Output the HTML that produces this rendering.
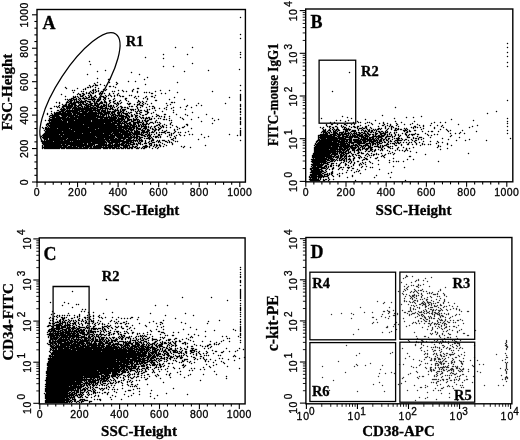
<!DOCTYPE html>
<html><head><meta charset="utf-8"><title>Flow cytometry</title>
<style>html,body{margin:0;padding:0;background:#fff}svg{display:block;filter:grayscale(1)}text{fill:#000;stroke:#000;stroke-width:0.3px}.t{letter-spacing:0.45px}</style></head>
<body><svg width="520" height="440" viewBox="0 0 520 440">
<defs><filter id="nf" x="0" y="0" width="520" height="440" filterUnits="userSpaceOnUse"><feOffset dx="0" dy="0"/></filter><path id="d1" d="M240 17h1v1h-1zM240 34h1v1h-1zM240 38h1v1h-1zM507 43h1v1h-1zM175 47h1v1h-1zM192 47h1v1h-1zM507 47h1v1h-1zM240 52h1v1h-1zM507 52h1v1h-1zM163 54h1v1h-1zM187 54h1v1h-1zM240 54h1v1h-1zM507 56h1v1h-1zM145 57h1v1h-1zM240 57h1v1h-1zM163 58h1v1h-1zM89 61h1v1h-1zM507 62h1v1h-1zM192 63h1v1h-1zM90 64h1v1h-1zM163 66h1v1h-1zM173 66h1v1h-1zM507 66h1v1h-1zM239 69h1v1h-1zM105 70h1v1h-1zM208 70h1v1h-1zM97 71h1v1h-1zM184 71h1v1h-1zM131 72h1v1h-1zM349 72h1v1h-1zM87 74h1v1h-1zM139 74h1v1h-1zM147 77h1v1h-1zM97 78h1v1h-1zM108 79h2v1h-2zM144 79h1v1h-1zM128 81h1v1h-1zM135 81h1v1h-1zM97 82h1v1h-1zM109 82h1v1h-1zM116 82h1v1h-1zM177 82h1v1h-1zM94 83h1v1h-1zM117 83h1v1h-1zM95 84h1v1h-1zM100 84h1v1h-1zM116 84h1v1h-1zM145 84h1v1h-1zM89 85h1v1h-1zM93 85h1v1h-1zM95 85h3v1h-3zM104 85h1v1h-1zM240 85h1v1h-1zM90 86h1v1h-1zM92 86h1v1h-1zM109 86h2v1h-2zM113 86h1v1h-1zM65 87h1v1h-1zM87 87h2v1h-2zM90 87h1v1h-1zM95 87h1v1h-1zM115 87h1v1h-1zM66 88h1v1h-1zM77 88h1v1h-1zM85 88h1v1h-1zM98 88h1v1h-1zM137 88h2v1h-2zM83 89h1v1h-1zM85 89h1v1h-1zM93 89h1v1h-1zM95 89h1v1h-1zM103 89h2v1h-2zM106 89h1v1h-1zM133 89h1v1h-1zM72 90h1v1h-1zM74 90h1v1h-1zM92 90h2v1h-2zM95 90h1v1h-1zM98 90h1v1h-1zM105 90h1v1h-1zM118 90h1v1h-1zM122 90h1v1h-1zM132 90h1v1h-1zM160 90h1v1h-1zM169 90h1v1h-1zM240 90h1v1h-1zM81 91h1v1h-1zM83 91h1v1h-1zM90 91h1v1h-1zM93 91h1v1h-1zM96 91h1v1h-1zM98 91h1v1h-1zM101 91h2v1h-2zM112 91h1v1h-1zM114 91h1v1h-1zM123 91h1v1h-1zM126 91h1v1h-1zM132 91h1v1h-1zM137 91h1v1h-1zM155 91h1v1h-1zM212 91h1v1h-1zM332 91h1v1h-1zM73 92h1v1h-1zM86 92h1v1h-1zM89 92h1v1h-1zM91 92h1v1h-1zM93 92h1v1h-1zM95 92h1v1h-1zM100 92h1v1h-1zM137 92h1v1h-1zM144 92h1v1h-1zM146 92h1v1h-1zM149 92h1v1h-1zM177 92h1v1h-1zM78 93h1v1h-1zM82 93h2v1h-2zM86 93h1v1h-1zM88 93h2v1h-2zM92 93h2v1h-2zM99 93h4v1h-4zM104 93h1v1h-1zM109 93h1v1h-1zM113 93h1v1h-1zM118 93h1v1h-1zM151 93h2v1h-2zM161 93h1v1h-1zM165 93h1v1h-1zM61 94h1v1h-1zM77 94h1v1h-1zM79 94h2v1h-2zM83 94h2v1h-2zM90 94h1v1h-1zM99 94h1v1h-1zM101 94h1v1h-1zM109 94h1v1h-1zM117 94h1v1h-1zM240 94h1v1h-1zM80 95h1v1h-1zM82 95h2v1h-2zM88 95h1v1h-1zM90 95h2v1h-2zM95 95h1v1h-1zM105 95h1v1h-1zM108 95h1v1h-1zM110 95h1v1h-1zM114 95h1v1h-1zM117 95h1v1h-1zM119 95h1v1h-1zM129 95h1v1h-1zM131 95h1v1h-1zM155 95h1v1h-1zM240 95h1v1h-1zM65 96h1v1h-1zM73 96h1v1h-1zM75 96h1v1h-1zM77 96h1v1h-1zM80 96h3v1h-3zM85 96h1v1h-1zM89 96h1v1h-1zM91 96h1v1h-1zM94 96h2v1h-2zM101 96h3v1h-3zM106 96h1v1h-1zM111 96h1v1h-1zM114 96h1v1h-1zM120 96h1v1h-1zM122 96h2v1h-2zM135 96h1v1h-1zM138 96h1v1h-1zM146 96h1v1h-1zM151 96h2v1h-2zM240 96h1v1h-1zM73 97h3v1h-3zM78 97h1v1h-1zM83 97h1v1h-1zM86 97h1v1h-1zM88 97h2v1h-2zM91 97h3v1h-3zM96 97h1v1h-1zM100 97h1v1h-1zM103 97h3v1h-3zM134 97h1v1h-1zM145 97h1v1h-1zM154 97h1v1h-1zM174 97h1v1h-1zM229 97h1v1h-1zM240 97h1v1h-1zM71 98h3v1h-3zM76 98h1v1h-1zM79 98h2v1h-2zM82 98h6v1h-6zM91 98h1v1h-1zM93 98h2v1h-2zM100 98h1v1h-1zM104 98h2v1h-2zM108 98h1v1h-1zM114 98h1v1h-1zM125 98h2v1h-2zM136 98h1v1h-1zM143 98h1v1h-1zM147 98h1v1h-1zM240 98h1v1h-1zM65 99h1v1h-1zM67 99h1v1h-1zM69 99h3v1h-3zM73 99h4v1h-4zM78 99h1v1h-1zM80 99h1v1h-1zM84 99h1v1h-1zM88 99h8v1h-8zM97 99h1v1h-1zM99 99h2v1h-2zM103 99h1v1h-1zM105 99h1v1h-1zM113 99h1v1h-1zM125 99h1v1h-1zM147 99h1v1h-1zM169 99h1v1h-1zM184 99h1v1h-1zM240 99h1v1h-1zM68 100h1v1h-1zM70 100h3v1h-3zM74 100h1v1h-1zM76 100h1v1h-1zM79 100h1v1h-1zM81 100h1v1h-1zM85 100h2v1h-2zM92 100h1v1h-1zM94 100h1v1h-1zM97 100h3v1h-3zM104 100h1v1h-1zM109 100h2v1h-2zM115 100h1v1h-1zM120 100h1v1h-1zM126 100h1v1h-1zM138 100h1v1h-1zM155 100h2v1h-2zM240 100h1v1h-1zM507 100h1v1h-1zM67 101h1v1h-1zM69 101h3v1h-3zM74 101h1v1h-1zM76 101h3v1h-3zM80 101h6v1h-6zM87 101h4v1h-4zM93 101h2v1h-2zM96 101h3v1h-3zM101 101h1v1h-1zM104 101h2v1h-2zM109 101h1v1h-1zM113 101h2v1h-2zM119 101h1v1h-1zM128 101h1v1h-1zM138 101h2v1h-2zM142 101h1v1h-1zM146 101h1v1h-1zM56 102h1v1h-1zM59 102h1v1h-1zM66 102h3v1h-3zM70 102h2v1h-2zM73 102h11v1h-11zM85 102h1v1h-1zM89 102h2v1h-2zM94 102h1v1h-1zM96 102h1v1h-1zM100 102h3v1h-3zM104 102h3v1h-3zM110 102h1v1h-1zM113 102h1v1h-1zM117 102h1v1h-1zM121 102h1v1h-1zM137 102h1v1h-1zM140 102h1v1h-1zM143 102h1v1h-1zM171 102h2v1h-2zM174 102h1v1h-1zM59 103h1v1h-1zM66 103h1v1h-1zM69 103h7v1h-7zM78 103h1v1h-1zM80 103h1v1h-1zM82 103h2v1h-2zM86 103h2v1h-2zM90 103h3v1h-3zM94 103h1v1h-1zM96 103h2v1h-2zM99 103h4v1h-4zM106 103h1v1h-1zM109 103h1v1h-1zM114 103h2v1h-2zM117 103h2v1h-2zM120 103h1v1h-1zM127 103h1v1h-1zM129 103h2v1h-2zM139 103h1v1h-1zM142 103h1v1h-1zM145 103h1v1h-1zM151 103h1v1h-1zM166 103h1v1h-1zM198 103h1v1h-1zM225 103h1v1h-1zM62 104h1v1h-1zM65 104h2v1h-2zM68 104h2v1h-2zM71 104h5v1h-5zM79 104h3v1h-3zM83 104h4v1h-4zM88 104h4v1h-4zM95 104h1v1h-1zM97 104h3v1h-3zM103 104h2v1h-2zM106 104h1v1h-1zM108 104h1v1h-1zM116 104h1v1h-1zM118 104h1v1h-1zM128 104h2v1h-2zM134 104h1v1h-1zM137 104h3v1h-3zM143 104h1v1h-1zM147 104h1v1h-1zM170 104h1v1h-1zM240 104h1v1h-1zM59 105h1v1h-1zM63 105h4v1h-4zM68 105h5v1h-5zM74 105h3v1h-3zM78 105h4v1h-4zM85 105h4v1h-4zM90 105h3v1h-3zM94 105h5v1h-5zM101 105h1v1h-1zM103 105h4v1h-4zM108 105h1v1h-1zM110 105h2v1h-2zM113 105h1v1h-1zM117 105h1v1h-1zM137 105h1v1h-1zM140 105h3v1h-3zM167 105h1v1h-1zM187 105h1v1h-1zM196 105h1v1h-1zM201 105h1v1h-1zM240 105h1v1h-1zM54 106h1v1h-1zM56 106h1v1h-1zM58 106h1v1h-1zM62 106h11v1h-11zM74 106h2v1h-2zM77 106h2v1h-2zM81 106h2v1h-2zM84 106h1v1h-1zM86 106h5v1h-5zM93 106h1v1h-1zM96 106h3v1h-3zM100 106h5v1h-5zM106 106h1v1h-1zM108 106h4v1h-4zM113 106h1v1h-1zM116 106h1v1h-1zM120 106h2v1h-2zM129 106h1v1h-1zM131 106h2v1h-2zM136 106h1v1h-1zM142 106h1v1h-1zM149 106h1v1h-1zM152 106h2v1h-2zM186 106h1v1h-1zM240 106h1v1h-1zM57 107h1v1h-1zM59 107h1v1h-1zM62 107h2v1h-2zM66 107h6v1h-6zM73 107h4v1h-4zM78 107h3v1h-3zM82 107h1v1h-1zM84 107h5v1h-5zM90 107h3v1h-3zM94 107h2v1h-2zM97 107h6v1h-6zM105 107h2v1h-2zM110 107h1v1h-1zM112 107h1v1h-1zM114 107h1v1h-1zM118 107h1v1h-1zM121 107h2v1h-2zM124 107h2v1h-2zM127 107h1v1h-1zM137 107h1v1h-1zM140 107h1v1h-1zM146 107h1v1h-1zM154 107h1v1h-1zM166 107h1v1h-1zM173 107h1v1h-1zM180 107h1v1h-1zM191 107h1v1h-1zM395 107h1v1h-1zM50 108h2v1h-2zM61 108h1v1h-1zM63 108h2v1h-2zM66 108h5v1h-5zM72 108h26v1h-26zM100 108h9v1h-9zM110 108h3v1h-3zM117 108h1v1h-1zM121 108h1v1h-1zM127 108h2v1h-2zM137 108h1v1h-1zM152 108h1v1h-1zM154 108h1v1h-1zM159 108h1v1h-1zM164 108h1v1h-1zM171 108h1v1h-1zM240 108h1v1h-1zM60 109h6v1h-6zM67 109h1v1h-1zM69 109h1v1h-1zM72 109h1v1h-1zM74 109h18v1h-18zM93 109h3v1h-3zM97 109h4v1h-4zM102 109h1v1h-1zM105 109h1v1h-1zM107 109h1v1h-1zM109 109h2v1h-2zM112 109h2v1h-2zM115 109h1v1h-1zM117 109h1v1h-1zM120 109h1v1h-1zM122 109h4v1h-4zM130 109h4v1h-4zM135 109h1v1h-1zM138 109h1v1h-1zM147 109h1v1h-1zM149 109h1v1h-1zM166 109h1v1h-1zM185 109h1v1h-1zM240 109h1v1h-1zM57 110h2v1h-2zM61 110h4v1h-4zM66 110h14v1h-14zM81 110h3v1h-3zM85 110h15v1h-15zM101 110h5v1h-5zM107 110h1v1h-1zM114 110h5v1h-5zM120 110h1v1h-1zM122 110h3v1h-3zM131 110h1v1h-1zM133 110h1v1h-1zM138 110h1v1h-1zM140 110h2v1h-2zM144 110h1v1h-1zM147 110h1v1h-1zM155 110h1v1h-1zM173 110h1v1h-1zM51 111h1v1h-1zM59 111h5v1h-5zM65 111h13v1h-13zM79 111h9v1h-9zM89 111h4v1h-4zM95 111h1v1h-1zM97 111h3v1h-3zM101 111h5v1h-5zM107 111h4v1h-4zM112 111h4v1h-4zM118 111h1v1h-1zM120 111h2v1h-2zM123 111h1v1h-1zM126 111h1v1h-1zM135 111h1v1h-1zM137 111h1v1h-1zM139 111h1v1h-1zM145 111h3v1h-3zM162 111h1v1h-1zM240 111h1v1h-1zM496 111h1v1h-1zM54 112h1v1h-1zM56 112h5v1h-5zM62 112h4v1h-4zM67 112h4v1h-4zM72 112h8v1h-8zM82 112h5v1h-5zM88 112h9v1h-9zM98 112h4v1h-4zM103 112h7v1h-7zM111 112h4v1h-4zM117 112h4v1h-4zM122 112h2v1h-2zM128 112h1v1h-1zM130 112h2v1h-2zM136 112h1v1h-1zM140 112h2v1h-2zM147 112h2v1h-2zM153 112h1v1h-1zM173 112h1v1h-1zM192 112h1v1h-1zM240 112h1v1h-1zM47 113h1v1h-1zM51 113h1v1h-1zM54 113h18v1h-18zM73 113h30v1h-30zM104 113h6v1h-6zM111 113h2v1h-2zM114 113h1v1h-1zM117 113h3v1h-3zM121 113h1v1h-1zM123 113h5v1h-5zM129 113h1v1h-1zM136 113h2v1h-2zM139 113h1v1h-1zM147 113h1v1h-1zM151 113h1v1h-1zM487 113h1v1h-1zM47 114h1v1h-1zM52 114h1v1h-1zM54 114h18v1h-18zM73 114h3v1h-3zM77 114h20v1h-20zM98 114h1v1h-1zM100 114h7v1h-7zM108 114h1v1h-1zM110 114h1v1h-1zM112 114h4v1h-4zM118 114h2v1h-2zM121 114h1v1h-1zM125 114h3v1h-3zM131 114h1v1h-1zM134 114h1v1h-1zM140 114h1v1h-1zM145 114h2v1h-2zM156 114h1v1h-1zM164 114h2v1h-2zM176 114h1v1h-1zM185 114h1v1h-1zM206 114h1v1h-1zM240 114h1v1h-1zM50 115h9v1h-9zM61 115h17v1h-17zM79 115h5v1h-5zM85 115h14v1h-14zM100 115h1v1h-1zM102 115h3v1h-3zM106 115h1v1h-1zM108 115h1v1h-1zM111 115h3v1h-3zM115 115h9v1h-9zM126 115h3v1h-3zM131 115h2v1h-2zM135 115h3v1h-3zM142 115h2v1h-2zM157 115h2v1h-2zM187 115h1v1h-1zM382 115h1v1h-1zM49 116h1v1h-1zM52 116h8v1h-8zM62 116h5v1h-5zM68 116h6v1h-6zM75 116h29v1h-29zM106 116h1v1h-1zM108 116h2v1h-2zM111 116h1v1h-1zM113 116h3v1h-3zM117 116h1v1h-1zM119 116h8v1h-8zM128 116h2v1h-2zM131 116h2v1h-2zM135 116h2v1h-2zM139 116h1v1h-1zM152 116h1v1h-1zM156 116h1v1h-1zM159 116h1v1h-1zM161 116h1v1h-1zM164 116h1v1h-1zM169 116h1v1h-1zM342 116h1v1h-1zM421 116h1v1h-1zM50 117h5v1h-5zM56 117h10v1h-10zM67 117h2v1h-2zM70 117h26v1h-26zM97 117h20v1h-20zM118 117h1v1h-1zM121 117h3v1h-3zM125 117h3v1h-3zM129 117h1v1h-1zM135 117h1v1h-1zM137 117h1v1h-1zM140 117h1v1h-1zM142 117h2v1h-2zM146 117h1v1h-1zM148 117h2v1h-2zM164 117h1v1h-1zM180 117h1v1h-1zM198 117h1v1h-1zM240 117h1v1h-1zM347 117h1v1h-1zM406 117h1v1h-1zM413 117h1v1h-1zM49 118h1v1h-1zM52 118h25v1h-25zM78 118h20v1h-20zM100 118h3v1h-3zM104 118h4v1h-4zM109 118h8v1h-8zM118 118h6v1h-6zM125 118h1v1h-1zM127 118h2v1h-2zM133 118h1v1h-1zM136 118h1v1h-1zM141 118h1v1h-1zM143 118h1v1h-1zM145 118h3v1h-3zM149 118h1v1h-1zM151 118h1v1h-1zM154 118h1v1h-1zM158 118h1v1h-1zM160 118h1v1h-1zM169 118h1v1h-1zM182 118h1v1h-1zM212 118h1v1h-1zM240 118h1v1h-1zM321 118h1v1h-1zM351 118h1v1h-1zM394 118h1v1h-1zM507 118h1v1h-1zM49 119h12v1h-12zM62 119h54v1h-54zM117 119h8v1h-8zM127 119h5v1h-5zM133 119h6v1h-6zM145 119h1v1h-1zM149 119h3v1h-3zM163 119h2v1h-2zM166 119h1v1h-1zM183 119h1v1h-1zM191 119h1v1h-1zM218 119h1v1h-1zM240 119h1v1h-1zM365 119h1v1h-1zM451 119h1v1h-1zM45 120h1v1h-1zM48 120h14v1h-14zM63 120h11v1h-11zM75 120h16v1h-16zM92 120h28v1h-28zM121 120h2v1h-2zM124 120h1v1h-1zM127 120h3v1h-3zM131 120h1v1h-1zM133 120h3v1h-3zM137 120h1v1h-1zM139 120h1v1h-1zM142 120h1v1h-1zM144 120h2v1h-2zM147 120h2v1h-2zM156 120h1v1h-1zM169 120h1v1h-1zM171 120h1v1h-1zM214 120h1v1h-1zM336 120h1v1h-1zM340 120h1v1h-1zM348 120h1v1h-1zM375 120h1v1h-1zM473 120h1v1h-1zM49 121h1v1h-1zM51 121h16v1h-16zM68 121h23v1h-23zM92 121h21v1h-21zM114 121h8v1h-8zM123 121h5v1h-5zM131 121h3v1h-3zM137 121h3v1h-3zM142 121h1v1h-1zM145 121h3v1h-3zM155 121h1v1h-1zM201 121h1v1h-1zM240 121h1v1h-1zM345 121h1v1h-1zM357 121h1v1h-1zM395 121h1v1h-1zM414 121h1v1h-1zM507 121h1v1h-1zM49 122h18v1h-18zM68 122h43v1h-43zM112 122h5v1h-5zM118 122h3v1h-3zM122 122h1v1h-1zM124 122h3v1h-3zM129 122h2v1h-2zM133 122h9v1h-9zM143 122h1v1h-1zM146 122h1v1h-1zM150 122h3v1h-3zM155 122h1v1h-1zM157 122h1v1h-1zM159 122h1v1h-1zM171 122h1v1h-1zM240 122h1v1h-1zM330 122h1v1h-1zM334 122h1v1h-1zM353 122h1v1h-1zM358 122h1v1h-1zM360 122h1v1h-1zM367 122h1v1h-1zM369 122h1v1h-1zM383 122h1v1h-1zM401 122h1v1h-1zM434 122h1v1h-1zM440 122h1v1h-1zM445 122h1v1h-1zM47 123h57v1h-57zM105 123h20v1h-20zM126 123h5v1h-5zM133 123h3v1h-3zM137 123h2v1h-2zM142 123h2v1h-2zM146 123h2v1h-2zM149 123h1v1h-1zM153 123h1v1h-1zM160 123h1v1h-1zM170 123h1v1h-1zM212 123h1v1h-1zM240 123h1v1h-1zM347 123h1v1h-1zM365 123h1v1h-1zM371 123h1v1h-1zM379 123h1v1h-1zM383 123h1v1h-1zM387 123h1v1h-1zM396 123h1v1h-1zM412 123h1v1h-1zM431 123h1v1h-1zM507 123h1v1h-1zM46 124h3v1h-3zM50 124h33v1h-33zM84 124h31v1h-31zM117 124h3v1h-3zM121 124h1v1h-1zM124 124h2v1h-2zM127 124h1v1h-1zM129 124h3v1h-3zM133 124h3v1h-3zM138 124h1v1h-1zM140 124h1v1h-1zM142 124h5v1h-5zM148 124h1v1h-1zM158 124h2v1h-2zM164 124h1v1h-1zM170 124h1v1h-1zM186 124h2v1h-2zM240 124h1v1h-1zM326 124h1v1h-1zM331 124h2v1h-2zM337 124h1v1h-1zM344 124h2v1h-2zM351 124h1v1h-1zM354 124h1v1h-1zM372 124h1v1h-1zM384 124h1v1h-1zM390 124h1v1h-1zM397 124h1v1h-1zM404 124h1v1h-1zM410 124h1v1h-1zM417 124h1v1h-1zM458 124h1v1h-1zM46 125h1v1h-1zM48 125h74v1h-74zM124 125h5v1h-5zM130 125h5v1h-5zM136 125h1v1h-1zM138 125h2v1h-2zM141 125h1v1h-1zM143 125h1v1h-1zM145 125h1v1h-1zM156 125h2v1h-2zM159 125h1v1h-1zM162 125h1v1h-1zM166 125h1v1h-1zM172 125h1v1h-1zM187 125h1v1h-1zM326 125h1v1h-1zM341 125h1v1h-1zM346 125h1v1h-1zM360 125h1v1h-1zM368 125h1v1h-1zM382 125h2v1h-2zM387 125h1v1h-1zM390 125h1v1h-1zM396 125h1v1h-1zM419 125h1v1h-1zM423 125h1v1h-1zM430 125h1v1h-1zM437 125h1v1h-1zM442 125h1v1h-1zM477 125h1v1h-1zM47 126h1v1h-1zM49 126h68v1h-68zM118 126h13v1h-13zM132 126h5v1h-5zM138 126h2v1h-2zM141 126h6v1h-6zM148 126h1v1h-1zM151 126h1v1h-1zM154 126h2v1h-2zM160 126h1v1h-1zM162 126h2v1h-2zM176 126h1v1h-1zM184 126h1v1h-1zM327 126h1v1h-1zM329 126h2v1h-2zM335 126h2v1h-2zM341 126h1v1h-1zM343 126h1v1h-1zM349 126h1v1h-1zM353 126h2v1h-2zM357 126h2v1h-2zM365 126h2v1h-2zM378 126h1v1h-1zM385 126h1v1h-1zM389 126h1v1h-1zM391 126h2v1h-2zM398 126h1v1h-1zM414 126h2v1h-2zM423 126h1v1h-1zM441 126h1v1h-1zM472 126h1v1h-1zM507 126h1v1h-1zM42 127h1v1h-1zM45 127h2v1h-2zM48 127h1v1h-1zM50 127h38v1h-38zM89 127h39v1h-39zM129 127h6v1h-6zM136 127h2v1h-2zM141 127h1v1h-1zM144 127h3v1h-3zM148 127h1v1h-1zM150 127h1v1h-1zM154 127h1v1h-1zM158 127h1v1h-1zM161 127h1v1h-1zM163 127h1v1h-1zM166 127h1v1h-1zM170 127h1v1h-1zM177 127h1v1h-1zM182 127h2v1h-2zM320 127h1v1h-1zM323 127h1v1h-1zM329 127h1v1h-1zM332 127h2v1h-2zM337 127h1v1h-1zM342 127h1v1h-1zM344 127h2v1h-2zM351 127h1v1h-1zM354 127h2v1h-2zM357 127h1v1h-1zM362 127h1v1h-1zM365 127h2v1h-2zM370 127h1v1h-1zM385 127h1v1h-1zM391 127h1v1h-1zM393 127h1v1h-1zM411 127h1v1h-1zM413 127h1v1h-1zM415 127h1v1h-1zM417 127h1v1h-1zM420 127h1v1h-1zM434 127h1v1h-1zM443 127h1v1h-1zM469 127h1v1h-1zM43 128h1v1h-1zM45 128h12v1h-12zM58 128h11v1h-11zM70 128h28v1h-28zM99 128h18v1h-18zM118 128h4v1h-4zM123 128h9v1h-9zM133 128h2v1h-2zM136 128h5v1h-5zM143 128h4v1h-4zM150 128h1v1h-1zM152 128h1v1h-1zM155 128h1v1h-1zM159 128h2v1h-2zM179 128h1v1h-1zM191 128h1v1h-1zM240 128h1v1h-1zM322 128h1v1h-1zM330 128h1v1h-1zM333 128h1v1h-1zM337 128h1v1h-1zM344 128h1v1h-1zM346 128h1v1h-1zM348 128h1v1h-1zM357 128h1v1h-1zM359 128h3v1h-3zM363 128h2v1h-2zM366 128h1v1h-1zM371 128h1v1h-1zM378 128h2v1h-2zM381 128h1v1h-1zM385 128h1v1h-1zM388 128h1v1h-1zM391 128h1v1h-1zM395 128h2v1h-2zM398 128h1v1h-1zM404 128h1v1h-1zM406 128h1v1h-1zM413 128h1v1h-1zM423 128h1v1h-1zM434 128h1v1h-1zM45 129h26v1h-26zM72 129h23v1h-23zM96 129h28v1h-28zM125 129h2v1h-2zM128 129h6v1h-6zM136 129h1v1h-1zM138 129h3v1h-3zM142 129h1v1h-1zM145 129h1v1h-1zM147 129h2v1h-2zM152 129h2v1h-2zM155 129h2v1h-2zM158 129h2v1h-2zM174 129h1v1h-1zM177 129h1v1h-1zM323 129h1v1h-1zM325 129h1v1h-1zM329 129h1v1h-1zM332 129h1v1h-1zM334 129h1v1h-1zM336 129h3v1h-3zM343 129h8v1h-8zM358 129h1v1h-1zM362 129h1v1h-1zM367 129h1v1h-1zM369 129h1v1h-1zM373 129h1v1h-1zM375 129h1v1h-1zM377 129h2v1h-2zM380 129h1v1h-1zM387 129h1v1h-1zM391 129h1v1h-1zM395 129h1v1h-1zM397 129h2v1h-2zM400 129h2v1h-2zM405 129h1v1h-1zM407 129h1v1h-1zM421 129h1v1h-1zM440 129h1v1h-1zM446 129h1v1h-1zM44 130h1v1h-1zM46 130h79v1h-79zM126 130h3v1h-3zM130 130h3v1h-3zM134 130h1v1h-1zM136 130h2v1h-2zM141 130h4v1h-4zM147 130h3v1h-3zM154 130h2v1h-2zM158 130h1v1h-1zM162 130h1v1h-1zM166 130h1v1h-1zM174 130h1v1h-1zM240 130h1v1h-1zM323 130h3v1h-3zM328 130h3v1h-3zM333 130h1v1h-1zM335 130h2v1h-2zM338 130h2v1h-2zM345 130h3v1h-3zM349 130h1v1h-1zM352 130h4v1h-4zM358 130h1v1h-1zM361 130h1v1h-1zM363 130h1v1h-1zM365 130h1v1h-1zM368 130h2v1h-2zM371 130h2v1h-2zM374 130h1v1h-1zM376 130h1v1h-1zM386 130h1v1h-1zM394 130h3v1h-3zM403 130h4v1h-4zM409 130h1v1h-1zM414 130h2v1h-2zM447 130h1v1h-1zM450 130h1v1h-1zM462 130h1v1h-1zM507 130h1v1h-1zM45 131h17v1h-17zM63 131h11v1h-11zM75 131h55v1h-55zM131 131h1v1h-1zM134 131h6v1h-6zM142 131h3v1h-3zM146 131h3v1h-3zM152 131h1v1h-1zM154 131h1v1h-1zM164 131h2v1h-2zM175 131h1v1h-1zM188 131h1v1h-1zM240 131h1v1h-1zM322 131h4v1h-4zM327 131h1v1h-1zM330 131h1v1h-1zM333 131h3v1h-3zM337 131h1v1h-1zM343 131h1v1h-1zM345 131h3v1h-3zM351 131h5v1h-5zM364 131h3v1h-3zM368 131h2v1h-2zM371 131h2v1h-2zM376 131h1v1h-1zM378 131h2v1h-2zM381 131h2v1h-2zM385 131h1v1h-1zM387 131h1v1h-1zM404 131h1v1h-1zM407 131h1v1h-1zM409 131h2v1h-2zM422 131h1v1h-1zM428 131h1v1h-1zM431 131h2v1h-2zM438 131h1v1h-1zM448 131h1v1h-1zM476 131h1v1h-1zM45 132h45v1h-45zM91 132h21v1h-21zM113 132h6v1h-6zM120 132h8v1h-8zM129 132h4v1h-4zM134 132h6v1h-6zM141 132h7v1h-7zM149 132h1v1h-1zM151 132h3v1h-3zM156 132h1v1h-1zM159 132h1v1h-1zM161 132h4v1h-4zM167 132h3v1h-3zM174 132h1v1h-1zM178 132h1v1h-1zM180 132h1v1h-1zM185 132h1v1h-1zM240 132h1v1h-1zM321 132h1v1h-1zM323 132h4v1h-4zM328 132h2v1h-2zM331 132h1v1h-1zM333 132h4v1h-4zM339 132h5v1h-5zM345 132h1v1h-1zM348 132h1v1h-1zM350 132h1v1h-1zM354 132h1v1h-1zM356 132h1v1h-1zM358 132h2v1h-2zM361 132h2v1h-2zM364 132h1v1h-1zM367 132h1v1h-1zM370 132h2v1h-2zM373 132h1v1h-1zM375 132h1v1h-1zM379 132h2v1h-2zM383 132h1v1h-1zM385 132h3v1h-3zM390 132h1v1h-1zM394 132h1v1h-1zM396 132h1v1h-1zM406 132h2v1h-2zM460 132h1v1h-1zM44 133h38v1h-38zM83 133h20v1h-20zM104 133h7v1h-7zM112 133h9v1h-9zM122 133h9v1h-9zM132 133h8v1h-8zM141 133h1v1h-1zM143 133h1v1h-1zM147 133h1v1h-1zM149 133h1v1h-1zM156 133h1v1h-1zM165 133h1v1h-1zM171 133h1v1h-1zM173 133h1v1h-1zM240 133h1v1h-1zM323 133h1v1h-1zM325 133h3v1h-3zM329 133h1v1h-1zM333 133h5v1h-5zM339 133h1v1h-1zM341 133h2v1h-2zM344 133h6v1h-6zM351 133h1v1h-1zM353 133h4v1h-4zM359 133h2v1h-2zM363 133h3v1h-3zM367 133h2v1h-2zM375 133h3v1h-3zM380 133h6v1h-6zM389 133h1v1h-1zM394 133h1v1h-1zM402 133h1v1h-1zM405 133h1v1h-1zM415 133h1v1h-1zM425 133h1v1h-1zM450 133h1v1h-1zM455 133h1v1h-1zM459 133h1v1h-1zM464 133h1v1h-1zM507 133h1v1h-1zM43 134h16v1h-16zM60 134h3v1h-3zM64 134h49v1h-49zM114 134h18v1h-18zM133 134h10v1h-10zM145 134h2v1h-2zM148 134h2v1h-2zM151 134h1v1h-1zM154 134h1v1h-1zM158 134h2v1h-2zM161 134h1v1h-1zM169 134h1v1h-1zM171 134h1v1h-1zM179 134h1v1h-1zM189 134h1v1h-1zM192 134h1v1h-1zM201 134h1v1h-1zM229 134h1v1h-1zM240 134h1v1h-1zM320 134h8v1h-8zM330 134h6v1h-6zM337 134h10v1h-10zM348 134h1v1h-1zM350 134h1v1h-1zM352 134h1v1h-1zM354 134h1v1h-1zM356 134h4v1h-4zM361 134h2v1h-2zM365 134h2v1h-2zM368 134h3v1h-3zM372 134h2v1h-2zM375 134h2v1h-2zM380 134h2v1h-2zM384 134h2v1h-2zM387 134h1v1h-1zM389 134h1v1h-1zM391 134h1v1h-1zM395 134h1v1h-1zM398 134h1v1h-1zM405 134h2v1h-2zM409 134h1v1h-1zM411 134h4v1h-4zM417 134h2v1h-2zM427 134h1v1h-1zM434 134h1v1h-1zM437 134h1v1h-1zM42 135h67v1h-67zM110 135h13v1h-13zM124 135h7v1h-7zM132 135h1v1h-1zM134 135h1v1h-1zM136 135h2v1h-2zM141 135h4v1h-4zM147 135h4v1h-4zM158 135h2v1h-2zM169 135h1v1h-1zM171 135h1v1h-1zM176 135h1v1h-1zM180 135h1v1h-1zM184 135h1v1h-1zM237 135h1v1h-1zM240 135h1v1h-1zM318 135h14v1h-14zM333 135h4v1h-4zM338 135h3v1h-3zM342 135h2v1h-2zM346 135h3v1h-3zM350 135h1v1h-1zM352 135h4v1h-4zM357 135h6v1h-6zM364 135h4v1h-4zM369 135h1v1h-1zM373 135h1v1h-1zM375 135h1v1h-1zM378 135h2v1h-2zM381 135h4v1h-4zM387 135h1v1h-1zM391 135h1v1h-1zM395 135h1v1h-1zM398 135h1v1h-1zM400 135h1v1h-1zM406 135h1v1h-1zM408 135h1v1h-1zM412 135h1v1h-1zM428 135h1v1h-1zM431 135h1v1h-1zM451 135h1v1h-1zM41 136h1v1h-1zM43 136h18v1h-18zM62 136h33v1h-33zM96 136h19v1h-19zM116 136h7v1h-7zM124 136h5v1h-5zM130 136h2v1h-2zM133 136h2v1h-2zM136 136h4v1h-4zM144 136h2v1h-2zM147 136h1v1h-1zM149 136h2v1h-2zM153 136h1v1h-1zM155 136h3v1h-3zM160 136h1v1h-1zM167 136h1v1h-1zM174 136h1v1h-1zM208 136h1v1h-1zM318 136h1v1h-1zM320 136h15v1h-15zM337 136h3v1h-3zM342 136h6v1h-6zM349 136h9v1h-9zM359 136h5v1h-5zM365 136h4v1h-4zM372 136h12v1h-12zM386 136h5v1h-5zM392 136h1v1h-1zM394 136h1v1h-1zM399 136h1v1h-1zM407 136h1v1h-1zM417 136h1v1h-1zM450 136h1v1h-1zM42 137h22v1h-22zM65 137h31v1h-31zM97 137h18v1h-18zM117 137h21v1h-21zM139 137h4v1h-4zM148 137h2v1h-2zM151 137h1v1h-1zM155 137h2v1h-2zM158 137h1v1h-1zM160 137h1v1h-1zM170 137h1v1h-1zM175 137h1v1h-1zM204 137h1v1h-1zM318 137h19v1h-19zM338 137h6v1h-6zM345 137h8v1h-8zM354 137h5v1h-5zM361 137h5v1h-5zM367 137h1v1h-1zM369 137h5v1h-5zM376 137h1v1h-1zM378 137h4v1h-4zM385 137h2v1h-2zM392 137h1v1h-1zM398 137h1v1h-1zM407 137h3v1h-3zM413 137h1v1h-1zM419 137h3v1h-3zM430 137h1v1h-1zM459 137h1v1h-1zM43 138h5v1h-5zM49 138h18v1h-18zM68 138h36v1h-36zM105 138h9v1h-9zM115 138h2v1h-2zM118 138h8v1h-8zM128 138h4v1h-4zM134 138h1v1h-1zM136 138h2v1h-2zM139 138h2v1h-2zM144 138h1v1h-1zM146 138h5v1h-5zM152 138h1v1h-1zM173 138h1v1h-1zM175 138h1v1h-1zM318 138h1v1h-1zM320 138h6v1h-6zM327 138h19v1h-19zM349 138h3v1h-3zM358 138h2v1h-2zM361 138h1v1h-1zM363 138h5v1h-5zM369 138h2v1h-2zM372 138h2v1h-2zM375 138h1v1h-1zM377 138h2v1h-2zM381 138h2v1h-2zM385 138h1v1h-1zM388 138h2v1h-2zM394 138h1v1h-1zM396 138h4v1h-4zM401 138h1v1h-1zM413 138h1v1h-1zM415 138h2v1h-2zM418 138h1v1h-1zM423 138h1v1h-1zM442 138h1v1h-1zM510 138h1v1h-1zM44 139h4v1h-4zM49 139h17v1h-17zM67 139h10v1h-10zM78 139h1v1h-1zM80 139h29v1h-29zM110 139h11v1h-11zM123 139h2v1h-2zM126 139h5v1h-5zM133 139h1v1h-1zM136 139h1v1h-1zM138 139h2v1h-2zM141 139h1v1h-1zM149 139h1v1h-1zM152 139h2v1h-2zM171 139h2v1h-2zM198 139h1v1h-1zM318 139h2v1h-2zM321 139h17v1h-17zM339 139h13v1h-13zM353 139h6v1h-6zM360 139h15v1h-15zM376 139h1v1h-1zM378 139h1v1h-1zM380 139h2v1h-2zM383 139h2v1h-2zM386 139h1v1h-1zM388 139h1v1h-1zM392 139h1v1h-1zM397 139h2v1h-2zM402 139h1v1h-1zM405 139h2v1h-2zM411 139h1v1h-1zM418 139h1v1h-1zM421 139h1v1h-1zM448 139h1v1h-1zM469 139h1v1h-1zM41 140h1v1h-1zM44 140h1v1h-1zM46 140h14v1h-14zM61 140h2v1h-2zM64 140h41v1h-41zM106 140h18v1h-18zM126 140h12v1h-12zM139 140h4v1h-4zM145 140h1v1h-1zM151 140h3v1h-3zM157 140h1v1h-1zM159 140h1v1h-1zM162 140h3v1h-3zM168 140h1v1h-1zM173 140h1v1h-1zM240 140h1v1h-1zM317 140h23v1h-23zM341 140h4v1h-4zM346 140h2v1h-2zM349 140h3v1h-3zM353 140h8v1h-8zM362 140h4v1h-4zM367 140h5v1h-5zM373 140h5v1h-5zM379 140h3v1h-3zM383 140h1v1h-1zM386 140h2v1h-2zM390 140h1v1h-1zM395 140h7v1h-7zM404 140h1v1h-1zM408 140h1v1h-1zM412 140h1v1h-1zM415 140h2v1h-2zM456 140h1v1h-1zM465 140h1v1h-1zM486 140h1v1h-1zM41 141h12v1h-12zM54 141h16v1h-16zM71 141h1v1h-1zM73 141h33v1h-33zM107 141h3v1h-3zM111 141h21v1h-21zM133 141h1v1h-1zM135 141h1v1h-1zM137 141h1v1h-1zM139 141h1v1h-1zM141 141h2v1h-2zM145 141h1v1h-1zM149 141h1v1h-1zM151 141h1v1h-1zM156 141h1v1h-1zM158 141h2v1h-2zM165 141h2v1h-2zM169 141h1v1h-1zM175 141h1v1h-1zM177 141h1v1h-1zM316 141h2v1h-2zM319 141h13v1h-13zM333 141h15v1h-15zM349 141h3v1h-3zM354 141h8v1h-8zM363 141h5v1h-5zM369 141h7v1h-7zM377 141h1v1h-1zM379 141h3v1h-3zM384 141h1v1h-1zM388 141h1v1h-1zM390 141h2v1h-2zM394 141h1v1h-1zM397 141h1v1h-1zM414 141h1v1h-1zM423 141h1v1h-1zM430 141h1v1h-1zM437 141h1v1h-1zM42 142h1v1h-1zM44 142h47v1h-47zM92 142h15v1h-15zM108 142h12v1h-12zM122 142h7v1h-7zM130 142h4v1h-4zM138 142h1v1h-1zM140 142h1v1h-1zM145 142h1v1h-1zM148 142h1v1h-1zM152 142h3v1h-3zM158 142h1v1h-1zM160 142h1v1h-1zM167 142h1v1h-1zM169 142h1v1h-1zM171 142h1v1h-1zM316 142h1v1h-1zM318 142h19v1h-19zM338 142h7v1h-7zM346 142h1v1h-1zM348 142h14v1h-14zM363 142h3v1h-3zM369 142h1v1h-1zM371 142h3v1h-3zM376 142h4v1h-4zM382 142h1v1h-1zM384 142h2v1h-2zM388 142h1v1h-1zM395 142h1v1h-1zM397 142h2v1h-2zM400 142h1v1h-1zM403 142h1v1h-1zM406 142h1v1h-1zM409 142h1v1h-1zM411 142h1v1h-1zM415 142h1v1h-1zM419 142h1v1h-1zM438 142h1v1h-1zM442 142h1v1h-1zM42 143h41v1h-41zM84 143h3v1h-3zM88 143h17v1h-17zM106 143h1v1h-1zM109 143h4v1h-4zM115 143h3v1h-3zM119 143h1v1h-1zM121 143h4v1h-4zM126 143h5v1h-5zM133 143h2v1h-2zM136 143h1v1h-1zM138 143h3v1h-3zM144 143h3v1h-3zM149 143h3v1h-3zM162 143h1v1h-1zM172 143h1v1h-1zM315 143h1v1h-1zM317 143h22v1h-22zM340 143h8v1h-8zM349 143h1v1h-1zM351 143h3v1h-3zM357 143h8v1h-8zM366 143h5v1h-5zM372 143h4v1h-4zM377 143h1v1h-1zM379 143h3v1h-3zM387 143h1v1h-1zM390 143h1v1h-1zM392 143h3v1h-3zM396 143h1v1h-1zM398 143h2v1h-2zM408 143h1v1h-1zM416 143h1v1h-1zM422 143h1v1h-1zM436 143h1v1h-1zM447 143h1v1h-1zM43 144h18v1h-18zM62 144h3v1h-3zM66 144h21v1h-21zM88 144h7v1h-7zM98 144h9v1h-9zM108 144h3v1h-3zM112 144h1v1h-1zM114 144h10v1h-10zM125 144h2v1h-2zM128 144h1v1h-1zM130 144h5v1h-5zM136 144h2v1h-2zM140 144h1v1h-1zM142 144h1v1h-1zM149 144h1v1h-1zM151 144h1v1h-1zM154 144h1v1h-1zM156 144h1v1h-1zM159 144h1v1h-1zM164 144h1v1h-1zM172 144h1v1h-1zM315 144h31v1h-31zM347 144h3v1h-3zM353 144h1v1h-1zM355 144h2v1h-2zM358 144h2v1h-2zM365 144h3v1h-3zM370 144h1v1h-1zM372 144h2v1h-2zM375 144h1v1h-1zM377 144h2v1h-2zM386 144h3v1h-3zM394 144h1v1h-1zM401 144h1v1h-1zM407 144h2v1h-2zM412 144h1v1h-1zM416 144h1v1h-1zM422 144h1v1h-1zM424 144h1v1h-1zM428 144h1v1h-1zM430 144h1v1h-1zM447 144h1v1h-1zM42 145h1v1h-1zM44 145h24v1h-24zM70 145h23v1h-23zM94 145h1v1h-1zM96 145h24v1h-24zM121 145h9v1h-9zM132 145h1v1h-1zM137 145h1v1h-1zM145 145h2v1h-2zM150 145h2v1h-2zM154 145h1v1h-1zM156 145h2v1h-2zM159 145h2v1h-2zM166 145h1v1h-1zM205 145h1v1h-1zM314 145h1v1h-1zM316 145h23v1h-23zM340 145h10v1h-10zM351 145h7v1h-7zM359 145h3v1h-3zM363 145h6v1h-6zM370 145h1v1h-1zM372 145h1v1h-1zM377 145h1v1h-1zM380 145h1v1h-1zM382 145h1v1h-1zM384 145h3v1h-3zM395 145h2v1h-2zM401 145h1v1h-1zM420 145h1v1h-1zM438 145h1v1h-1zM451 145h1v1h-1zM42 146h1v1h-1zM44 146h18v1h-18zM63 146h4v1h-4zM68 146h4v1h-4zM73 146h3v1h-3zM77 146h7v1h-7zM85 146h7v1h-7zM93 146h9v1h-9zM103 146h1v1h-1zM105 146h2v1h-2zM108 146h5v1h-5zM114 146h6v1h-6zM123 146h5v1h-5zM129 146h1v1h-1zM132 146h2v1h-2zM135 146h2v1h-2zM143 146h5v1h-5zM149 146h1v1h-1zM153 146h1v1h-1zM156 146h1v1h-1zM160 146h1v1h-1zM163 146h1v1h-1zM181 146h1v1h-1zM184 146h1v1h-1zM315 146h16v1h-16zM332 146h21v1h-21zM355 146h1v1h-1zM357 146h2v1h-2zM361 146h3v1h-3zM365 146h1v1h-1zM368 146h3v1h-3zM374 146h5v1h-5zM380 146h1v1h-1zM382 146h2v1h-2zM387 146h2v1h-2zM390 146h1v1h-1zM392 146h1v1h-1zM438 146h1v1h-1zM440 146h1v1h-1zM42 147h36v1h-36zM79 147h3v1h-3zM83 147h6v1h-6zM90 147h2v1h-2zM93 147h24v1h-24zM118 147h1v1h-1zM120 147h2v1h-2zM123 147h5v1h-5zM129 147h4v1h-4zM134 147h2v1h-2zM137 147h1v1h-1zM139 147h1v1h-1zM142 147h1v1h-1zM144 147h3v1h-3zM149 147h1v1h-1zM155 147h1v1h-1zM158 147h1v1h-1zM183 147h1v1h-1zM190 147h1v1h-1zM314 147h24v1h-24zM339 147h3v1h-3zM343 147h6v1h-6zM350 147h7v1h-7zM358 147h1v1h-1zM360 147h1v1h-1zM362 147h1v1h-1zM364 147h1v1h-1zM368 147h5v1h-5zM378 147h3v1h-3zM382 147h1v1h-1zM388 147h2v1h-2zM398 147h1v1h-1zM403 147h1v1h-1zM413 147h1v1h-1zM437 147h1v1h-1zM42 148h1v1h-1zM44 148h16v1h-16zM61 148h4v1h-4zM66 148h22v1h-22zM89 148h12v1h-12zM103 148h5v1h-5zM109 148h2v1h-2zM112 148h3v1h-3zM116 148h4v1h-4zM121 148h3v1h-3zM125 148h1v1h-1zM127 148h3v1h-3zM131 148h2v1h-2zM136 148h3v1h-3zM141 148h1v1h-1zM143 148h2v1h-2zM152 148h1v1h-1zM157 148h1v1h-1zM314 148h24v1h-24zM339 148h4v1h-4zM344 148h4v1h-4zM349 148h1v1h-1zM351 148h5v1h-5zM358 148h2v1h-2zM362 148h3v1h-3zM366 148h3v1h-3zM370 148h2v1h-2zM381 148h1v1h-1zM384 148h1v1h-1zM390 148h1v1h-1zM392 148h1v1h-1zM397 148h1v1h-1zM406 148h1v1h-1zM409 148h1v1h-1zM447 148h1v1h-1zM314 149h15v1h-15zM330 149h16v1h-16zM347 149h3v1h-3zM352 149h3v1h-3zM357 149h4v1h-4zM362 149h1v1h-1zM365 149h3v1h-3zM370 149h3v1h-3zM375 149h1v1h-1zM378 149h1v1h-1zM381 149h2v1h-2zM397 149h1v1h-1zM406 149h1v1h-1zM440 149h1v1h-1zM314 150h22v1h-22zM337 150h1v1h-1zM339 150h2v1h-2zM342 150h3v1h-3zM346 150h3v1h-3zM352 150h3v1h-3zM356 150h3v1h-3zM360 150h1v1h-1zM366 150h1v1h-1zM370 150h2v1h-2zM374 150h2v1h-2zM380 150h1v1h-1zM382 150h1v1h-1zM387 150h1v1h-1zM395 150h1v1h-1zM399 150h1v1h-1zM402 150h1v1h-1zM405 150h1v1h-1zM407 150h1v1h-1zM314 151h28v1h-28zM343 151h1v1h-1zM345 151h2v1h-2zM348 151h1v1h-1zM350 151h1v1h-1zM354 151h1v1h-1zM358 151h1v1h-1zM365 151h1v1h-1zM368 151h2v1h-2zM372 151h1v1h-1zM374 151h1v1h-1zM389 151h1v1h-1zM404 151h1v1h-1zM410 151h1v1h-1zM314 152h22v1h-22zM337 152h1v1h-1zM339 152h7v1h-7zM348 152h3v1h-3zM354 152h1v1h-1zM358 152h2v1h-2zM361 152h1v1h-1zM392 152h1v1h-1zM416 152h1v1h-1zM313 153h18v1h-18zM332 153h6v1h-6zM339 153h1v1h-1zM341 153h3v1h-3zM345 153h4v1h-4zM351 153h1v1h-1zM357 153h2v1h-2zM361 153h3v1h-3zM367 153h1v1h-1zM371 153h1v1h-1zM376 153h1v1h-1zM381 153h1v1h-1zM388 153h1v1h-1zM390 153h1v1h-1zM394 153h1v1h-1zM468 153h1v1h-1zM313 154h17v1h-17zM331 154h7v1h-7zM340 154h2v1h-2zM343 154h2v1h-2zM346 154h1v1h-1zM352 154h2v1h-2zM355 154h1v1h-1zM366 154h1v1h-1zM368 154h1v1h-1zM373 154h2v1h-2zM376 154h1v1h-1zM378 154h1v1h-1zM385 154h1v1h-1zM393 154h1v1h-1zM425 154h1v1h-1zM312 155h20v1h-20zM334 155h2v1h-2zM338 155h1v1h-1zM340 155h4v1h-4zM345 155h2v1h-2zM349 155h1v1h-1zM352 155h1v1h-1zM356 155h1v1h-1zM358 155h2v1h-2zM365 155h1v1h-1zM369 155h1v1h-1zM371 155h1v1h-1zM373 155h1v1h-1zM382 155h1v1h-1zM384 155h1v1h-1zM312 156h23v1h-23zM336 156h3v1h-3zM340 156h3v1h-3zM344 156h3v1h-3zM348 156h3v1h-3zM353 156h1v1h-1zM360 156h1v1h-1zM367 156h1v1h-1zM381 156h1v1h-1zM383 156h1v1h-1zM409 156h2v1h-2zM312 157h13v1h-13zM326 157h6v1h-6zM333 157h1v1h-1zM335 157h4v1h-4zM340 157h2v1h-2zM344 157h1v1h-1zM346 157h1v1h-1zM354 157h1v1h-1zM358 157h2v1h-2zM361 157h1v1h-1zM364 157h1v1h-1zM370 157h1v1h-1zM377 157h1v1h-1zM384 157h1v1h-1zM313 158h1v1h-1zM315 158h12v1h-12zM328 158h5v1h-5zM337 158h1v1h-1zM339 158h2v1h-2zM342 158h2v1h-2zM345 158h2v1h-2zM349 158h1v1h-1zM353 158h2v1h-2zM359 158h1v1h-1zM365 158h2v1h-2zM375 158h2v1h-2zM393 158h1v1h-1zM311 159h18v1h-18zM330 159h5v1h-5zM336 159h1v1h-1zM339 159h1v1h-1zM341 159h2v1h-2zM344 159h1v1h-1zM346 159h1v1h-1zM348 159h3v1h-3zM353 159h1v1h-1zM363 159h2v1h-2zM366 159h2v1h-2zM407 159h1v1h-1zM413 159h1v1h-1zM312 160h14v1h-14zM327 160h3v1h-3zM331 160h3v1h-3zM335 160h1v1h-1zM337 160h1v1h-1zM339 160h3v1h-3zM343 160h2v1h-2zM346 160h1v1h-1zM350 160h1v1h-1zM353 160h1v1h-1zM362 160h1v1h-1zM378 160h1v1h-1zM389 160h1v1h-1zM311 161h16v1h-16zM330 161h3v1h-3zM334 161h1v1h-1zM344 161h1v1h-1zM346 161h1v1h-1zM349 161h1v1h-1zM351 161h1v1h-1zM357 161h2v1h-2zM369 161h1v1h-1zM393 161h1v1h-1zM396 161h1v1h-1zM398 161h1v1h-1zM403 161h1v1h-1zM438 161h1v1h-1zM312 162h14v1h-14zM327 162h3v1h-3zM341 162h1v1h-1zM343 162h1v1h-1zM348 162h1v1h-1zM351 162h1v1h-1zM354 162h1v1h-1zM362 162h1v1h-1zM365 162h1v1h-1zM370 162h1v1h-1zM389 162h1v1h-1zM313 163h7v1h-7zM321 163h1v1h-1zM323 163h5v1h-5zM331 163h3v1h-3zM336 163h1v1h-1zM340 163h1v1h-1zM345 163h1v1h-1zM350 163h1v1h-1zM354 163h1v1h-1zM360 163h1v1h-1zM363 163h1v1h-1zM372 163h1v1h-1zM311 164h13v1h-13zM327 164h2v1h-2zM331 164h1v1h-1zM339 164h1v1h-1zM345 164h2v1h-2zM353 164h1v1h-1zM359 164h1v1h-1zM361 164h1v1h-1zM365 164h1v1h-1zM378 164h1v1h-1zM312 165h11v1h-11zM325 165h2v1h-2zM330 165h2v1h-2zM333 165h1v1h-1zM336 165h1v1h-1zM338 165h2v1h-2zM345 165h1v1h-1zM348 165h1v1h-1zM353 165h1v1h-1zM359 165h1v1h-1zM311 166h1v1h-1zM313 166h3v1h-3zM317 166h5v1h-5zM324 166h3v1h-3zM328 166h1v1h-1zM330 166h2v1h-2zM338 166h1v1h-1zM351 166h1v1h-1zM362 166h1v1h-1zM366 166h1v1h-1zM393 166h1v1h-1zM312 167h13v1h-13zM326 167h1v1h-1zM328 167h1v1h-1zM333 167h1v1h-1zM340 167h2v1h-2zM343 167h1v1h-1zM347 167h3v1h-3zM361 167h1v1h-1zM370 167h1v1h-1zM372 167h1v1h-1zM404 167h1v1h-1zM310 168h9v1h-9zM321 168h5v1h-5zM327 168h1v1h-1zM332 168h2v1h-2zM339 168h1v1h-1zM348 168h1v1h-1zM352 168h2v1h-2zM310 169h2v1h-2zM313 169h9v1h-9zM326 169h1v1h-1zM329 169h1v1h-1zM332 169h1v1h-1zM338 169h1v1h-1zM342 169h1v1h-1zM357 169h1v1h-1zM365 169h1v1h-1zM379 169h1v1h-1zM311 170h9v1h-9zM321 170h2v1h-2zM325 170h1v1h-1zM347 170h1v1h-1zM351 170h1v1h-1zM359 170h1v1h-1zM311 171h13v1h-13zM326 171h1v1h-1zM332 171h1v1h-1zM356 171h1v1h-1zM358 171h1v1h-1zM310 172h12v1h-12zM324 172h2v1h-2zM331 172h2v1h-2zM346 172h1v1h-1zM354 172h1v1h-1zM391 172h1v1h-1zM312 173h9v1h-9zM322 173h2v1h-2zM327 173h1v1h-1zM329 173h1v1h-1zM331 173h2v1h-2zM339 173h1v1h-1zM342 173h1v1h-1zM360 173h1v1h-1zM388 173h1v1h-1zM310 174h12v1h-12zM324 174h4v1h-4zM329 174h1v1h-1zM331 174h1v1h-1zM337 174h1v1h-1zM310 175h7v1h-7zM318 175h5v1h-5zM324 175h1v1h-1zM327 175h2v1h-2zM332 175h1v1h-1zM339 175h1v1h-1zM352 175h1v1h-1zM376 175h1v1h-1zM309 176h1v1h-1zM311 176h17v1h-17zM333 176h1v1h-1zM339 176h1v1h-1zM352 176h1v1h-1zM309 177h8v1h-8zM318 177h4v1h-4zM323 177h1v1h-1zM328 177h1v1h-1zM347 177h1v1h-1zM374 177h1v1h-1zM390 177h1v1h-1zM310 178h1v1h-1zM312 178h5v1h-5zM318 178h1v1h-1zM320 178h1v1h-1zM328 178h1v1h-1zM309 179h10v1h-10zM320 179h1v1h-1zM323 179h1v1h-1zM325 179h2v1h-2zM329 179h1v1h-1zM333 179h1v1h-1zM310 180h10v1h-10zM323 180h2v1h-2zM328 180h1v1h-1zM355 180h1v1h-1zM405 180h1v1h-1zM240 267h1v1h-1zM240 269h1v1h-1zM240 272h1v1h-1zM240 274h1v1h-1zM240 276h1v1h-1zM240 277h1v1h-1zM240 280h1v1h-1zM240 281h1v1h-1zM240 282h1v1h-1zM240 285h1v1h-1zM240 289h1v1h-1zM240 290h1v1h-1zM72 291h1v1h-1zM240 291h1v1h-1zM240 292h1v1h-1zM240 293h1v1h-1zM240 294h1v1h-1zM240 295h1v1h-1zM240 296h1v1h-1zM182 297h1v1h-1zM211 297h1v1h-1zM240 297h1v1h-1zM240 298h1v1h-1zM106 299h1v1h-1zM227 300h1v1h-1zM240 300h1v1h-1zM50 302h1v1h-1zM64 302h1v1h-1zM68 303h1v1h-1zM240 303h1v1h-1zM76 304h1v1h-1zM78 304h1v1h-1zM62 305h1v1h-1zM155 305h1v1h-1zM167 305h1v1h-1zM240 305h1v1h-1zM72 307h1v1h-1zM240 307h1v1h-1zM240 308h1v1h-1zM82 309h1v1h-1zM85 309h1v1h-1zM240 309h1v1h-1zM240 310h1v1h-1zM52 311h1v1h-1zM81 311h1v1h-1zM84 311h1v1h-1zM88 312h1v1h-1zM93 312h1v1h-1zM112 312h1v1h-1zM240 312h1v1h-1zM54 313h1v1h-1zM68 313h1v1h-1zM103 313h1v1h-1zM150 313h1v1h-1zM185 313h1v1h-1zM51 314h1v1h-1zM79 314h1v1h-1zM89 314h1v1h-1zM240 314h1v1h-1zM57 315h1v1h-1zM59 315h1v1h-1zM62 315h1v1h-1zM64 315h1v1h-1zM67 315h1v1h-1zM69 315h1v1h-1zM74 315h1v1h-1zM79 315h1v1h-1zM87 315h1v1h-1zM93 315h1v1h-1zM99 315h1v1h-1zM165 315h1v1h-1zM193 315h1v1h-1zM54 316h1v1h-1zM56 316h1v1h-1zM59 316h1v1h-1zM77 316h1v1h-1zM79 316h1v1h-1zM90 316h1v1h-1zM93 316h1v1h-1zM98 316h1v1h-1zM240 316h1v1h-1zM50 317h1v1h-1zM57 317h1v1h-1zM61 317h2v1h-2zM64 317h1v1h-1zM66 317h1v1h-1zM74 317h1v1h-1zM77 317h1v1h-1zM84 317h2v1h-2zM87 317h1v1h-1zM89 317h1v1h-1zM99 317h1v1h-1zM101 317h1v1h-1zM105 317h1v1h-1zM112 317h1v1h-1zM118 317h1v1h-1zM131 317h2v1h-2zM138 317h1v1h-1zM49 318h1v1h-1zM52 318h2v1h-2zM62 318h3v1h-3zM71 318h2v1h-2zM79 318h1v1h-1zM85 318h1v1h-1zM89 318h1v1h-1zM93 318h1v1h-1zM102 318h1v1h-1zM121 318h1v1h-1zM124 318h1v1h-1zM127 318h1v1h-1zM130 318h1v1h-1zM175 318h1v1h-1zM53 319h1v1h-1zM56 319h1v1h-1zM60 319h1v1h-1zM62 319h2v1h-2zM68 319h1v1h-1zM78 319h1v1h-1zM82 319h1v1h-1zM87 319h1v1h-1zM90 319h1v1h-1zM116 319h1v1h-1zM137 319h1v1h-1zM240 319h1v1h-1zM50 320h1v1h-1zM52 320h1v1h-1zM59 320h2v1h-2zM63 320h1v1h-1zM65 320h2v1h-2zM69 320h1v1h-1zM71 320h1v1h-1zM73 320h1v1h-1zM75 320h1v1h-1zM78 320h2v1h-2zM82 320h1v1h-1zM85 320h1v1h-1zM91 320h1v1h-1zM93 320h1v1h-1zM98 320h1v1h-1zM111 320h1v1h-1zM163 320h1v1h-1zM219 320h1v1h-1zM53 321h1v1h-1zM57 321h1v1h-1zM59 321h2v1h-2zM62 321h1v1h-1zM64 321h1v1h-1zM68 321h1v1h-1zM70 321h1v1h-1zM73 321h1v1h-1zM76 321h1v1h-1zM81 321h1v1h-1zM83 321h1v1h-1zM86 321h1v1h-1zM89 321h1v1h-1zM91 321h3v1h-3zM100 321h1v1h-1zM110 321h1v1h-1zM114 321h1v1h-1zM118 321h1v1h-1zM126 321h1v1h-1zM153 321h1v1h-1zM208 321h1v1h-1zM240 321h1v1h-1zM49 322h1v1h-1zM55 322h4v1h-4zM60 322h1v1h-1zM62 322h4v1h-4zM67 322h1v1h-1zM69 322h1v1h-1zM74 322h2v1h-2zM78 322h1v1h-1zM85 322h2v1h-2zM93 322h1v1h-1zM97 322h1v1h-1zM116 322h1v1h-1zM123 322h2v1h-2zM149 322h1v1h-1zM160 322h2v1h-2zM181 322h1v1h-1zM240 322h1v1h-1zM49 323h2v1h-2zM52 323h3v1h-3zM59 323h4v1h-4zM65 323h1v1h-1zM67 323h1v1h-1zM70 323h1v1h-1zM72 323h4v1h-4zM78 323h1v1h-1zM81 323h1v1h-1zM85 323h1v1h-1zM87 323h3v1h-3zM92 323h1v1h-1zM95 323h1v1h-1zM99 323h1v1h-1zM102 323h1v1h-1zM108 323h1v1h-1zM115 323h1v1h-1zM117 323h1v1h-1zM120 323h2v1h-2zM126 323h1v1h-1zM128 323h1v1h-1zM139 323h1v1h-1zM156 323h1v1h-1zM162 323h1v1h-1zM185 323h1v1h-1zM207 323h1v1h-1zM53 324h1v1h-1zM56 324h5v1h-5zM62 324h1v1h-1zM65 324h1v1h-1zM67 324h3v1h-3zM73 324h1v1h-1zM75 324h1v1h-1zM79 324h1v1h-1zM82 324h1v1h-1zM94 324h1v1h-1zM98 324h1v1h-1zM102 324h1v1h-1zM104 324h1v1h-1zM125 324h1v1h-1zM160 324h1v1h-1zM240 324h1v1h-1zM48 325h3v1h-3zM54 325h8v1h-8zM64 325h7v1h-7zM72 325h1v1h-1zM76 325h1v1h-1zM82 325h1v1h-1zM87 325h1v1h-1zM95 325h1v1h-1zM107 325h1v1h-1zM110 325h1v1h-1zM132 325h1v1h-1zM145 325h1v1h-1zM47 326h2v1h-2zM51 326h3v1h-3zM56 326h4v1h-4zM61 326h5v1h-5zM67 326h1v1h-1zM69 326h1v1h-1zM73 326h2v1h-2zM78 326h2v1h-2zM86 326h1v1h-1zM90 326h1v1h-1zM93 326h2v1h-2zM102 326h1v1h-1zM104 326h3v1h-3zM108 326h2v1h-2zM115 326h1v1h-1zM118 326h1v1h-1zM121 326h1v1h-1zM126 326h2v1h-2zM146 326h1v1h-1zM157 326h1v1h-1zM163 326h1v1h-1zM240 326h1v1h-1zM52 327h2v1h-2zM56 327h4v1h-4zM61 327h5v1h-5zM67 327h4v1h-4zM72 327h3v1h-3zM76 327h1v1h-1zM79 327h6v1h-6zM86 327h3v1h-3zM93 327h1v1h-1zM102 327h2v1h-2zM107 327h1v1h-1zM111 327h1v1h-1zM116 327h2v1h-2zM121 327h1v1h-1zM130 327h1v1h-1zM161 327h1v1h-1zM190 327h1v1h-1zM240 327h1v1h-1zM51 328h2v1h-2zM54 328h9v1h-9zM66 328h4v1h-4zM71 328h5v1h-5zM77 328h3v1h-3zM85 328h1v1h-1zM87 328h1v1h-1zM89 328h1v1h-1zM91 328h6v1h-6zM98 328h3v1h-3zM102 328h1v1h-1zM104 328h1v1h-1zM108 328h1v1h-1zM112 328h1v1h-1zM122 328h2v1h-2zM129 328h1v1h-1zM134 328h1v1h-1zM240 328h1v1h-1zM49 329h6v1h-6zM56 329h4v1h-4zM62 329h5v1h-5zM68 329h3v1h-3zM72 329h2v1h-2zM76 329h3v1h-3zM80 329h2v1h-2zM83 329h2v1h-2zM91 329h1v1h-1zM93 329h3v1h-3zM97 329h1v1h-1zM102 329h1v1h-1zM104 329h2v1h-2zM115 329h1v1h-1zM127 329h1v1h-1zM156 329h1v1h-1zM163 329h1v1h-1zM183 329h1v1h-1zM196 329h1v1h-1zM233 329h1v1h-1zM240 329h1v1h-1zM48 330h2v1h-2zM51 330h5v1h-5zM58 330h1v1h-1zM60 330h3v1h-3zM64 330h3v1h-3zM68 330h3v1h-3zM72 330h1v1h-1zM74 330h3v1h-3zM78 330h7v1h-7zM86 330h1v1h-1zM88 330h1v1h-1zM90 330h2v1h-2zM100 330h1v1h-1zM103 330h1v1h-1zM105 330h1v1h-1zM110 330h1v1h-1zM131 330h1v1h-1zM150 330h1v1h-1zM214 330h1v1h-1zM235 330h1v1h-1zM240 330h1v1h-1zM48 331h4v1h-4zM53 331h8v1h-8zM62 331h2v1h-2zM65 331h15v1h-15zM81 331h3v1h-3zM86 331h1v1h-1zM88 331h1v1h-1zM90 331h6v1h-6zM97 331h2v1h-2zM101 331h1v1h-1zM103 331h1v1h-1zM106 331h1v1h-1zM108 331h1v1h-1zM114 331h1v1h-1zM116 331h3v1h-3zM124 331h1v1h-1zM126 331h1v1h-1zM151 331h1v1h-1zM158 331h2v1h-2zM205 331h1v1h-1zM240 331h1v1h-1zM47 332h1v1h-1zM50 332h1v1h-1zM53 332h1v1h-1zM55 332h1v1h-1zM57 332h2v1h-2zM60 332h10v1h-10zM71 332h1v1h-1zM73 332h2v1h-2zM76 332h2v1h-2zM79 332h6v1h-6zM87 332h2v1h-2zM90 332h4v1h-4zM95 332h1v1h-1zM100 332h1v1h-1zM104 332h1v1h-1zM109 332h2v1h-2zM117 332h1v1h-1zM120 332h1v1h-1zM127 332h1v1h-1zM132 332h2v1h-2zM147 332h1v1h-1zM161 332h3v1h-3zM173 332h1v1h-1zM178 332h1v1h-1zM49 333h4v1h-4zM54 333h10v1h-10zM65 333h11v1h-11zM77 333h2v1h-2zM80 333h5v1h-5zM87 333h2v1h-2zM93 333h1v1h-1zM100 333h1v1h-1zM108 333h2v1h-2zM113 333h2v1h-2zM118 333h1v1h-1zM124 333h2v1h-2zM128 333h1v1h-1zM132 333h1v1h-1zM137 333h1v1h-1zM139 333h1v1h-1zM143 333h1v1h-1zM164 333h1v1h-1zM240 333h1v1h-1zM47 334h7v1h-7zM55 334h4v1h-4zM60 334h6v1h-6zM67 334h4v1h-4zM72 334h3v1h-3zM76 334h3v1h-3zM82 334h6v1h-6zM90 334h3v1h-3zM94 334h1v1h-1zM96 334h2v1h-2zM99 334h5v1h-5zM106 334h1v1h-1zM109 334h1v1h-1zM111 334h1v1h-1zM113 334h1v1h-1zM118 334h1v1h-1zM120 334h2v1h-2zM137 334h1v1h-1zM147 334h1v1h-1zM150 334h1v1h-1zM160 334h1v1h-1zM188 334h1v1h-1zM194 334h1v1h-1zM240 334h1v1h-1zM49 335h32v1h-32zM84 335h1v1h-1zM86 335h1v1h-1zM89 335h1v1h-1zM92 335h2v1h-2zM96 335h1v1h-1zM98 335h1v1h-1zM101 335h1v1h-1zM104 335h2v1h-2zM108 335h2v1h-2zM121 335h1v1h-1zM123 335h2v1h-2zM140 335h1v1h-1zM142 335h1v1h-1zM144 335h1v1h-1zM165 335h1v1h-1zM167 335h1v1h-1zM172 335h2v1h-2zM198 335h1v1h-1zM240 335h1v1h-1zM48 336h1v1h-1zM50 336h5v1h-5zM56 336h2v1h-2zM59 336h1v1h-1zM61 336h7v1h-7zM69 336h10v1h-10zM81 336h4v1h-4zM88 336h2v1h-2zM91 336h2v1h-2zM94 336h1v1h-1zM96 336h3v1h-3zM100 336h1v1h-1zM119 336h1v1h-1zM121 336h2v1h-2zM124 336h1v1h-1zM129 336h1v1h-1zM131 336h1v1h-1zM136 336h1v1h-1zM138 336h1v1h-1zM140 336h2v1h-2zM143 336h1v1h-1zM145 336h2v1h-2zM152 336h1v1h-1zM191 336h1v1h-1zM205 336h1v1h-1zM222 336h1v1h-1zM226 336h1v1h-1zM238 336h1v1h-1zM48 337h1v1h-1zM50 337h2v1h-2zM53 337h6v1h-6zM60 337h11v1h-11zM72 337h3v1h-3zM76 337h11v1h-11zM88 337h3v1h-3zM93 337h1v1h-1zM95 337h1v1h-1zM98 337h2v1h-2zM101 337h4v1h-4zM106 337h1v1h-1zM109 337h1v1h-1zM112 337h3v1h-3zM118 337h1v1h-1zM120 337h1v1h-1zM122 337h2v1h-2zM126 337h4v1h-4zM135 337h1v1h-1zM142 337h1v1h-1zM149 337h1v1h-1zM160 337h1v1h-1zM162 337h1v1h-1zM164 337h1v1h-1zM190 337h1v1h-1zM192 337h1v1h-1zM240 337h1v1h-1zM50 338h8v1h-8zM59 338h3v1h-3zM63 338h1v1h-1zM65 338h2v1h-2zM68 338h2v1h-2zM71 338h3v1h-3zM76 338h1v1h-1zM78 338h1v1h-1zM81 338h1v1h-1zM84 338h4v1h-4zM90 338h1v1h-1zM92 338h2v1h-2zM95 338h1v1h-1zM99 338h1v1h-1zM101 338h3v1h-3zM106 338h2v1h-2zM110 338h1v1h-1zM113 338h1v1h-1zM116 338h1v1h-1zM119 338h1v1h-1zM121 338h2v1h-2zM125 338h1v1h-1zM128 338h1v1h-1zM130 338h1v1h-1zM133 338h1v1h-1zM136 338h1v1h-1zM140 338h1v1h-1zM142 338h1v1h-1zM144 338h1v1h-1zM147 338h2v1h-2zM152 338h1v1h-1zM163 338h1v1h-1zM175 338h2v1h-2zM186 338h1v1h-1zM227 338h1v1h-1zM229 338h1v1h-1zM50 339h3v1h-3zM54 339h3v1h-3zM58 339h12v1h-12zM71 339h1v1h-1zM73 339h8v1h-8zM82 339h1v1h-1zM84 339h3v1h-3zM88 339h1v1h-1zM91 339h3v1h-3zM95 339h3v1h-3zM99 339h5v1h-5zM105 339h1v1h-1zM108 339h1v1h-1zM111 339h1v1h-1zM115 339h3v1h-3zM121 339h2v1h-2zM125 339h1v1h-1zM130 339h1v1h-1zM136 339h1v1h-1zM138 339h1v1h-1zM140 339h1v1h-1zM143 339h1v1h-1zM145 339h2v1h-2zM152 339h5v1h-5zM160 339h1v1h-1zM168 339h3v1h-3zM174 339h1v1h-1zM182 339h1v1h-1zM188 339h1v1h-1zM49 340h2v1h-2zM52 340h1v1h-1zM55 340h1v1h-1zM57 340h11v1h-11zM69 340h4v1h-4zM74 340h2v1h-2zM77 340h2v1h-2zM80 340h9v1h-9zM90 340h1v1h-1zM92 340h2v1h-2zM95 340h3v1h-3zM99 340h2v1h-2zM102 340h1v1h-1zM104 340h1v1h-1zM106 340h1v1h-1zM108 340h2v1h-2zM111 340h6v1h-6zM130 340h1v1h-1zM132 340h4v1h-4zM137 340h1v1h-1zM141 340h3v1h-3zM148 340h1v1h-1zM152 340h1v1h-1zM157 340h1v1h-1zM159 340h1v1h-1zM166 340h1v1h-1zM168 340h2v1h-2zM179 340h1v1h-1zM190 340h1v1h-1zM223 340h1v1h-1zM240 340h1v1h-1zM49 341h2v1h-2zM52 341h14v1h-14zM67 341h2v1h-2zM70 341h8v1h-8zM79 341h9v1h-9zM91 341h2v1h-2zM94 341h8v1h-8zM103 341h2v1h-2zM106 341h3v1h-3zM111 341h2v1h-2zM114 341h2v1h-2zM117 341h1v1h-1zM119 341h5v1h-5zM125 341h1v1h-1zM127 341h1v1h-1zM129 341h2v1h-2zM135 341h1v1h-1zM138 341h1v1h-1zM140 341h1v1h-1zM144 341h3v1h-3zM155 341h2v1h-2zM162 341h1v1h-1zM172 341h1v1h-1zM175 341h2v1h-2zM179 341h2v1h-2zM193 341h1v1h-1zM202 341h1v1h-1zM210 341h1v1h-1zM221 341h1v1h-1zM229 341h1v1h-1zM49 342h4v1h-4zM54 342h2v1h-2zM57 342h5v1h-5zM64 342h9v1h-9zM74 342h10v1h-10zM86 342h4v1h-4zM91 342h1v1h-1zM94 342h2v1h-2zM99 342h4v1h-4zM105 342h3v1h-3zM109 342h4v1h-4zM118 342h1v1h-1zM123 342h4v1h-4zM128 342h3v1h-3zM133 342h1v1h-1zM135 342h3v1h-3zM139 342h3v1h-3zM143 342h1v1h-1zM146 342h1v1h-1zM148 342h1v1h-1zM154 342h2v1h-2zM160 342h1v1h-1zM162 342h1v1h-1zM164 342h2v1h-2zM168 342h1v1h-1zM170 342h1v1h-1zM173 342h1v1h-1zM175 342h1v1h-1zM184 342h2v1h-2zM216 342h1v1h-1zM240 342h1v1h-1zM47 343h1v1h-1zM50 343h3v1h-3zM54 343h3v1h-3zM58 343h14v1h-14zM73 343h3v1h-3zM77 343h8v1h-8zM86 343h6v1h-6zM93 343h4v1h-4zM98 343h6v1h-6zM105 343h6v1h-6zM113 343h1v1h-1zM115 343h4v1h-4zM123 343h1v1h-1zM125 343h8v1h-8zM135 343h4v1h-4zM141 343h1v1h-1zM143 343h1v1h-1zM147 343h1v1h-1zM149 343h1v1h-1zM152 343h3v1h-3zM157 343h1v1h-1zM161 343h2v1h-2zM164 343h3v1h-3zM169 343h2v1h-2zM174 343h2v1h-2zM182 343h2v1h-2zM185 343h1v1h-1zM187 343h1v1h-1zM214 343h1v1h-1zM219 343h1v1h-1zM48 344h3v1h-3zM52 344h1v1h-1zM55 344h2v1h-2zM58 344h1v1h-1zM60 344h10v1h-10zM71 344h9v1h-9zM81 344h3v1h-3zM85 344h1v1h-1zM87 344h1v1h-1zM89 344h8v1h-8zM98 344h3v1h-3zM102 344h3v1h-3zM108 344h3v1h-3zM112 344h10v1h-10zM123 344h1v1h-1zM125 344h4v1h-4zM131 344h2v1h-2zM135 344h5v1h-5zM142 344h3v1h-3zM146 344h1v1h-1zM148 344h1v1h-1zM150 344h3v1h-3zM154 344h1v1h-1zM156 344h1v1h-1zM159 344h4v1h-4zM168 344h1v1h-1zM171 344h1v1h-1zM175 344h1v1h-1zM185 344h1v1h-1zM194 344h1v1h-1zM209 344h2v1h-2zM214 344h1v1h-1zM216 344h1v1h-1zM218 344h1v1h-1zM50 345h2v1h-2zM54 345h1v1h-1zM56 345h3v1h-3zM60 345h21v1h-21zM82 345h4v1h-4zM87 345h17v1h-17zM106 345h4v1h-4zM111 345h4v1h-4zM117 345h1v1h-1zM120 345h3v1h-3zM124 345h6v1h-6zM132 345h4v1h-4zM137 345h3v1h-3zM141 345h3v1h-3zM146 345h1v1h-1zM148 345h2v1h-2zM152 345h1v1h-1zM155 345h2v1h-2zM158 345h4v1h-4zM167 345h1v1h-1zM169 345h1v1h-1zM172 345h2v1h-2zM175 345h2v1h-2zM196 345h1v1h-1zM200 345h1v1h-1zM207 345h2v1h-2zM50 346h4v1h-4zM55 346h11v1h-11zM67 346h2v1h-2zM70 346h9v1h-9zM80 346h9v1h-9zM91 346h6v1h-6zM98 346h2v1h-2zM101 346h4v1h-4zM106 346h6v1h-6zM113 346h4v1h-4zM118 346h1v1h-1zM121 346h1v1h-1zM123 346h3v1h-3zM127 346h1v1h-1zM129 346h1v1h-1zM131 346h8v1h-8zM140 346h6v1h-6zM147 346h2v1h-2zM151 346h2v1h-2zM156 346h2v1h-2zM159 346h4v1h-4zM167 346h1v1h-1zM171 346h1v1h-1zM175 346h1v1h-1zM187 346h1v1h-1zM191 346h2v1h-2zM202 346h1v1h-1zM205 346h1v1h-1zM207 346h1v1h-1zM211 346h1v1h-1zM51 347h24v1h-24zM76 347h8v1h-8zM85 347h19v1h-19zM105 347h15v1h-15zM121 347h3v1h-3zM125 347h4v1h-4zM130 347h3v1h-3zM134 347h3v1h-3zM138 347h2v1h-2zM141 347h3v1h-3zM145 347h10v1h-10zM157 347h1v1h-1zM159 347h1v1h-1zM163 347h2v1h-2zM166 347h1v1h-1zM169 347h1v1h-1zM180 347h1v1h-1zM187 347h1v1h-1zM210 347h1v1h-1zM50 348h1v1h-1zM52 348h5v1h-5zM58 348h5v1h-5zM64 348h5v1h-5zM70 348h32v1h-32zM103 348h15v1h-15zM119 348h3v1h-3zM123 348h3v1h-3zM127 348h8v1h-8zM136 348h2v1h-2zM139 348h6v1h-6zM146 348h3v1h-3zM150 348h1v1h-1zM152 348h5v1h-5zM160 348h1v1h-1zM162 348h1v1h-1zM166 348h2v1h-2zM170 348h2v1h-2zM175 348h1v1h-1zM177 348h1v1h-1zM181 348h1v1h-1zM184 348h1v1h-1zM191 348h3v1h-3zM204 348h1v1h-1zM208 348h1v1h-1zM226 348h1v1h-1zM239 348h1v1h-1zM50 349h2v1h-2zM53 349h1v1h-1zM55 349h2v1h-2zM58 349h13v1h-13zM72 349h20v1h-20zM93 349h21v1h-21zM115 349h12v1h-12zM128 349h5v1h-5zM134 349h16v1h-16zM152 349h4v1h-4zM157 349h2v1h-2zM160 349h1v1h-1zM162 349h1v1h-1zM165 349h1v1h-1zM168 349h4v1h-4zM175 349h1v1h-1zM180 349h1v1h-1zM185 349h2v1h-2zM192 349h1v1h-1zM195 349h2v1h-2zM243 349h1v1h-1zM50 350h1v1h-1zM52 350h24v1h-24zM77 350h58v1h-58zM136 350h1v1h-1zM138 350h7v1h-7zM146 350h3v1h-3zM150 350h1v1h-1zM152 350h1v1h-1zM154 350h4v1h-4zM159 350h1v1h-1zM162 350h1v1h-1zM164 350h2v1h-2zM168 350h2v1h-2zM172 350h5v1h-5zM182 350h1v1h-1zM190 350h5v1h-5zM212 350h1v1h-1zM237 350h1v1h-1zM49 351h1v1h-1zM53 351h48v1h-48zM102 351h37v1h-37zM140 351h3v1h-3zM144 351h4v1h-4zM149 351h1v1h-1zM152 351h5v1h-5zM159 351h1v1h-1zM161 351h1v1h-1zM163 351h4v1h-4zM170 351h1v1h-1zM173 351h3v1h-3zM177 351h1v1h-1zM179 351h1v1h-1zM181 351h1v1h-1zM185 351h2v1h-2zM190 351h2v1h-2zM194 351h1v1h-1zM196 351h1v1h-1zM199 351h1v1h-1zM206 351h1v1h-1zM215 351h2v1h-2zM223 351h1v1h-1zM229 351h1v1h-1zM235 351h1v1h-1zM50 352h1v1h-1zM52 352h75v1h-75zM128 352h8v1h-8zM137 352h10v1h-10zM148 352h1v1h-1zM150 352h7v1h-7zM158 352h1v1h-1zM163 352h1v1h-1zM166 352h2v1h-2zM170 352h1v1h-1zM173 352h5v1h-5zM180 352h2v1h-2zM185 352h2v1h-2zM191 352h3v1h-3zM198 352h1v1h-1zM207 352h1v1h-1zM221 352h2v1h-2zM51 353h90v1h-90zM142 353h5v1h-5zM148 353h2v1h-2zM151 353h3v1h-3zM155 353h2v1h-2zM158 353h3v1h-3zM164 353h2v1h-2zM167 353h2v1h-2zM171 353h1v1h-1zM178 353h2v1h-2zM181 353h1v1h-1zM183 353h1v1h-1zM186 353h1v1h-1zM190 353h1v1h-1zM196 353h1v1h-1zM199 353h1v1h-1zM203 353h1v1h-1zM206 353h1v1h-1zM213 353h1v1h-1zM51 354h95v1h-95zM148 354h3v1h-3zM152 354h1v1h-1zM154 354h1v1h-1zM156 354h5v1h-5zM162 354h1v1h-1zM164 354h1v1h-1zM166 354h3v1h-3zM173 354h1v1h-1zM184 354h1v1h-1zM193 354h1v1h-1zM196 354h1v1h-1zM200 354h1v1h-1zM49 355h2v1h-2zM52 355h1v1h-1zM54 355h93v1h-93zM148 355h4v1h-4zM153 355h2v1h-2zM156 355h3v1h-3zM163 355h2v1h-2zM167 355h3v1h-3zM175 355h1v1h-1zM179 355h1v1h-1zM181 355h1v1h-1zM183 355h1v1h-1zM186 355h1v1h-1zM196 355h1v1h-1zM204 355h1v1h-1zM206 355h1v1h-1zM208 355h1v1h-1zM218 355h1v1h-1zM220 355h1v1h-1zM234 355h1v1h-1zM49 356h88v1h-88zM138 356h8v1h-8zM147 356h4v1h-4zM152 356h4v1h-4zM157 356h1v1h-1zM159 356h3v1h-3zM168 356h1v1h-1zM170 356h2v1h-2zM173 356h1v1h-1zM176 356h4v1h-4zM181 356h1v1h-1zM187 356h1v1h-1zM191 356h1v1h-1zM200 356h2v1h-2zM233 356h1v1h-1zM235 356h1v1h-1zM50 357h1v1h-1zM52 357h88v1h-88zM141 357h1v1h-1zM143 357h1v1h-1zM146 357h4v1h-4zM151 357h5v1h-5zM161 357h1v1h-1zM164 357h1v1h-1zM166 357h2v1h-2zM170 357h3v1h-3zM177 357h1v1h-1zM180 357h3v1h-3zM193 357h2v1h-2zM203 357h1v1h-1zM244 357h1v1h-1zM48 358h78v1h-78zM127 358h3v1h-3zM132 358h9v1h-9zM142 358h4v1h-4zM147 358h2v1h-2zM150 358h4v1h-4zM156 358h3v1h-3zM160 358h5v1h-5zM167 358h1v1h-1zM169 358h2v1h-2zM174 358h1v1h-1zM176 358h1v1h-1zM180 358h2v1h-2zM195 358h1v1h-1zM200 358h1v1h-1zM203 358h1v1h-1zM219 358h1v1h-1zM222 358h1v1h-1zM239 358h1v1h-1zM48 359h68v1h-68zM117 359h20v1h-20zM138 359h7v1h-7zM147 359h2v1h-2zM150 359h2v1h-2zM154 359h1v1h-1zM156 359h1v1h-1zM159 359h1v1h-1zM164 359h1v1h-1zM166 359h1v1h-1zM170 359h1v1h-1zM184 359h4v1h-4zM194 359h1v1h-1zM197 359h1v1h-1zM204 359h1v1h-1zM206 359h1v1h-1zM210 359h1v1h-1zM228 359h1v1h-1zM49 360h80v1h-80zM130 360h11v1h-11zM142 360h6v1h-6zM149 360h7v1h-7zM158 360h1v1h-1zM160 360h2v1h-2zM167 360h1v1h-1zM173 360h1v1h-1zM175 360h1v1h-1zM182 360h1v1h-1zM184 360h1v1h-1zM205 360h1v1h-1zM215 360h1v1h-1zM234 360h1v1h-1zM48 361h68v1h-68zM117 361h2v1h-2zM120 361h13v1h-13zM134 361h11v1h-11zM147 361h3v1h-3zM151 361h2v1h-2zM156 361h1v1h-1zM159 361h1v1h-1zM164 361h1v1h-1zM166 361h1v1h-1zM176 361h1v1h-1zM182 361h2v1h-2zM187 361h1v1h-1zM190 361h1v1h-1zM205 361h1v1h-1zM208 361h1v1h-1zM221 361h1v1h-1zM48 362h85v1h-85zM134 362h1v1h-1zM136 362h2v1h-2zM139 362h1v1h-1zM141 362h7v1h-7zM150 362h5v1h-5zM157 362h1v1h-1zM179 362h1v1h-1zM181 362h1v1h-1zM189 362h1v1h-1zM194 362h1v1h-1zM213 362h1v1h-1zM223 362h1v1h-1zM47 363h75v1h-75zM123 363h6v1h-6zM130 363h4v1h-4zM136 363h2v1h-2zM139 363h4v1h-4zM144 363h2v1h-2zM151 363h1v1h-1zM153 363h2v1h-2zM159 363h1v1h-1zM163 363h1v1h-1zM168 363h2v1h-2zM172 363h1v1h-1zM191 363h1v1h-1zM224 363h1v1h-1zM47 364h78v1h-78zM126 364h4v1h-4zM131 364h2v1h-2zM134 364h5v1h-5zM140 364h1v1h-1zM143 364h1v1h-1zM146 364h2v1h-2zM149 364h1v1h-1zM152 364h4v1h-4zM157 364h1v1h-1zM159 364h2v1h-2zM162 364h1v1h-1zM183 364h1v1h-1zM206 364h1v1h-1zM216 364h1v1h-1zM47 365h72v1h-72zM120 365h8v1h-8zM131 365h2v1h-2zM134 365h2v1h-2zM141 365h4v1h-4zM146 365h1v1h-1zM150 365h1v1h-1zM152 365h3v1h-3zM156 365h1v1h-1zM159 365h2v1h-2zM164 365h1v1h-1zM182 365h2v1h-2zM185 365h1v1h-1zM213 365h1v1h-1zM48 366h89v1h-89zM138 366h2v1h-2zM141 366h4v1h-4zM147 366h1v1h-1zM156 366h1v1h-1zM160 366h2v1h-2zM163 366h1v1h-1zM168 366h1v1h-1zM184 366h1v1h-1zM209 366h1v1h-1zM227 366h1v1h-1zM47 367h73v1h-73zM121 367h4v1h-4zM126 367h4v1h-4zM131 367h1v1h-1zM133 367h3v1h-3zM138 367h1v1h-1zM146 367h3v1h-3zM150 367h1v1h-1zM155 367h2v1h-2zM158 367h1v1h-1zM160 367h1v1h-1zM173 367h1v1h-1zM183 367h1v1h-1zM203 367h1v1h-1zM210 367h1v1h-1zM47 368h60v1h-60zM108 368h5v1h-5zM114 368h5v1h-5zM120 368h5v1h-5zM126 368h1v1h-1zM128 368h8v1h-8zM137 368h2v1h-2zM142 368h3v1h-3zM146 368h2v1h-2zM154 368h1v1h-1zM167 368h1v1h-1zM174 368h1v1h-1zM179 368h1v1h-1zM191 368h1v1h-1zM194 368h1v1h-1zM239 368h1v1h-1zM47 369h75v1h-75zM123 369h5v1h-5zM129 369h3v1h-3zM136 369h2v1h-2zM139 369h1v1h-1zM141 369h1v1h-1zM145 369h1v1h-1zM148 369h1v1h-1zM152 369h1v1h-1zM158 369h1v1h-1zM161 369h1v1h-1zM165 369h1v1h-1zM200 369h1v1h-1zM204 369h1v1h-1zM47 370h50v1h-50zM98 370h23v1h-23zM122 370h3v1h-3zM126 370h2v1h-2zM130 370h5v1h-5zM137 370h1v1h-1zM142 370h1v1h-1zM145 370h1v1h-1zM153 370h1v1h-1zM189 370h1v1h-1zM192 370h1v1h-1zM46 371h74v1h-74zM121 371h5v1h-5zM128 371h1v1h-1zM130 371h1v1h-1zM135 371h1v1h-1zM137 371h1v1h-1zM139 371h1v1h-1zM141 371h1v1h-1zM145 371h2v1h-2zM153 371h1v1h-1zM159 371h1v1h-1zM167 371h1v1h-1zM180 371h1v1h-1zM214 371h1v1h-1zM46 372h53v1h-53zM100 372h11v1h-11zM112 372h5v1h-5zM118 372h2v1h-2zM122 372h4v1h-4zM127 372h2v1h-2zM136 372h1v1h-1zM138 372h1v1h-1zM143 372h2v1h-2zM152 372h1v1h-1zM154 372h1v1h-1zM177 372h1v1h-1zM46 373h65v1h-65zM112 373h6v1h-6zM121 373h2v1h-2zM129 373h1v1h-1zM134 373h1v1h-1zM138 373h1v1h-1zM141 373h2v1h-2zM170 373h1v1h-1zM47 374h55v1h-55zM104 374h5v1h-5zM112 374h10v1h-10zM128 374h1v1h-1zM130 374h1v1h-1zM132 374h1v1h-1zM134 374h1v1h-1zM137 374h2v1h-2zM147 374h2v1h-2zM157 374h1v1h-1zM166 374h1v1h-1zM169 374h1v1h-1zM180 374h1v1h-1zM190 374h1v1h-1zM203 374h1v1h-1zM216 374h1v1h-1zM46 375h53v1h-53zM101 375h3v1h-3zM105 375h5v1h-5zM111 375h5v1h-5zM117 375h1v1h-1zM119 375h1v1h-1zM123 375h2v1h-2zM127 375h1v1h-1zM129 375h1v1h-1zM141 375h1v1h-1zM144 375h1v1h-1zM155 375h1v1h-1zM158 375h1v1h-1zM169 375h1v1h-1zM188 375h1v1h-1zM47 376h36v1h-36zM84 376h16v1h-16zM101 376h7v1h-7zM109 376h1v1h-1zM111 376h5v1h-5zM118 376h1v1h-1zM125 376h1v1h-1zM128 376h1v1h-1zM134 376h1v1h-1zM137 376h2v1h-2zM149 376h1v1h-1zM156 376h1v1h-1zM226 376h1v1h-1zM46 377h54v1h-54zM101 377h1v1h-1zM103 377h3v1h-3zM107 377h3v1h-3zM112 377h1v1h-1zM116 377h2v1h-2zM120 377h1v1h-1zM123 377h1v1h-1zM128 377h1v1h-1zM130 377h1v1h-1zM133 377h1v1h-1zM136 377h1v1h-1zM141 377h1v1h-1zM144 377h1v1h-1zM170 377h1v1h-1zM184 377h1v1h-1zM46 378h37v1h-37zM84 378h1v1h-1zM86 378h1v1h-1zM90 378h2v1h-2zM93 378h2v1h-2zM97 378h1v1h-1zM99 378h10v1h-10zM113 378h1v1h-1zM117 378h1v1h-1zM123 378h1v1h-1zM131 378h2v1h-2zM147 378h1v1h-1zM160 378h1v1h-1zM226 378h1v1h-1zM46 379h48v1h-48zM95 379h1v1h-1zM97 379h3v1h-3zM101 379h4v1h-4zM106 379h2v1h-2zM110 379h1v1h-1zM114 379h1v1h-1zM124 379h1v1h-1zM128 379h1v1h-1zM145 379h2v1h-2zM45 380h42v1h-42zM88 380h3v1h-3zM92 380h7v1h-7zM100 380h2v1h-2zM103 380h4v1h-4zM108 380h1v1h-1zM111 380h1v1h-1zM113 380h1v1h-1zM115 380h1v1h-1zM121 380h1v1h-1zM123 380h1v1h-1zM130 380h1v1h-1zM136 380h1v1h-1zM139 380h1v1h-1zM200 380h1v1h-1zM46 381h29v1h-29zM76 381h6v1h-6zM84 381h1v1h-1zM86 381h1v1h-1zM88 381h8v1h-8zM98 381h1v1h-1zM100 381h1v1h-1zM102 381h4v1h-4zM107 381h1v1h-1zM109 381h1v1h-1zM115 381h1v1h-1zM118 381h2v1h-2zM127 381h1v1h-1zM129 381h1v1h-1zM132 381h1v1h-1zM46 382h37v1h-37zM85 382h3v1h-3zM89 382h7v1h-7zM97 382h2v1h-2zM100 382h1v1h-1zM102 382h1v1h-1zM110 382h1v1h-1zM113 382h1v1h-1zM116 382h1v1h-1zM118 382h1v1h-1zM121 382h1v1h-1zM127 382h1v1h-1zM131 382h1v1h-1zM163 382h1v1h-1zM46 383h35v1h-35zM83 383h7v1h-7zM91 383h1v1h-1zM93 383h1v1h-1zM95 383h3v1h-3zM100 383h1v1h-1zM103 383h3v1h-3zM108 383h1v1h-1zM110 383h3v1h-3zM115 383h1v1h-1zM122 383h1v1h-1zM45 384h38v1h-38zM84 384h1v1h-1zM86 384h1v1h-1zM88 384h3v1h-3zM92 384h2v1h-2zM95 384h1v1h-1zM97 384h1v1h-1zM101 384h2v1h-2zM107 384h1v1h-1zM127 384h1v1h-1zM131 384h2v1h-2zM137 384h1v1h-1zM147 384h1v1h-1zM46 385h26v1h-26zM73 385h4v1h-4zM78 385h1v1h-1zM80 385h2v1h-2zM83 385h2v1h-2zM86 385h2v1h-2zM89 385h1v1h-1zM92 385h3v1h-3zM96 385h1v1h-1zM99 385h1v1h-1zM102 385h1v1h-1zM104 385h1v1h-1zM106 385h1v1h-1zM111 385h1v1h-1zM114 385h1v1h-1zM122 385h1v1h-1zM128 385h1v1h-1zM135 385h1v1h-1zM45 386h24v1h-24zM70 386h14v1h-14zM87 386h1v1h-1zM90 386h1v1h-1zM93 386h1v1h-1zM108 386h1v1h-1zM130 386h1v1h-1zM132 386h1v1h-1zM134 386h1v1h-1zM136 386h1v1h-1zM46 387h36v1h-36zM85 387h1v1h-1zM88 387h1v1h-1zM90 387h1v1h-1zM92 387h1v1h-1zM95 387h3v1h-3zM106 387h1v1h-1zM109 387h1v1h-1zM113 387h1v1h-1zM45 388h31v1h-31zM77 388h4v1h-4zM83 388h2v1h-2zM86 388h2v1h-2zM90 388h1v1h-1zM93 388h1v1h-1zM99 388h1v1h-1zM101 388h2v1h-2zM104 388h1v1h-1zM106 388h1v1h-1zM122 388h1v1h-1zM137 388h1v1h-1zM139 388h1v1h-1zM173 388h1v1h-1zM45 389h29v1h-29zM75 389h1v1h-1zM77 389h2v1h-2zM80 389h1v1h-1zM82 389h4v1h-4zM87 389h1v1h-1zM92 389h1v1h-1zM94 389h1v1h-1zM100 389h1v1h-1zM103 389h1v1h-1zM108 389h1v1h-1zM112 389h1v1h-1zM114 389h1v1h-1zM117 389h1v1h-1zM133 389h1v1h-1zM45 390h34v1h-34zM80 390h3v1h-3zM84 390h2v1h-2zM88 390h3v1h-3zM93 390h1v1h-1zM95 390h1v1h-1zM102 390h1v1h-1zM128 390h3v1h-3zM151 390h1v1h-1zM45 391h24v1h-24zM71 391h1v1h-1zM74 391h1v1h-1zM76 391h3v1h-3zM80 391h1v1h-1zM84 391h1v1h-1zM87 391h1v1h-1zM91 391h1v1h-1zM93 391h2v1h-2zM114 391h1v1h-1zM125 391h1v1h-1zM139 391h1v1h-1zM46 392h22v1h-22zM69 392h2v1h-2zM72 392h3v1h-3zM76 392h3v1h-3zM80 392h4v1h-4zM86 392h1v1h-1zM88 392h1v1h-1zM93 392h3v1h-3zM97 392h1v1h-1zM99 392h1v1h-1zM104 392h2v1h-2zM108 392h1v1h-1zM116 392h1v1h-1zM44 393h1v1h-1zM46 393h24v1h-24zM71 393h2v1h-2zM74 393h3v1h-3zM80 393h1v1h-1zM82 393h1v1h-1zM88 393h1v1h-1zM93 393h1v1h-1zM95 393h1v1h-1zM102 393h1v1h-1zM107 393h1v1h-1zM133 393h1v1h-1zM150 393h1v1h-1zM166 393h1v1h-1zM45 394h23v1h-23zM69 394h6v1h-6zM76 394h1v1h-1zM78 394h4v1h-4zM83 394h1v1h-1zM87 394h1v1h-1zM89 394h1v1h-1zM91 394h1v1h-1zM107 394h1v1h-1zM124 394h1v1h-1zM139 394h1v1h-1zM187 394h1v1h-1zM45 395h29v1h-29zM75 395h3v1h-3zM79 395h1v1h-1zM81 395h2v1h-2zM88 395h1v1h-1zM95 395h1v1h-1zM98 395h1v1h-1zM112 395h1v1h-1zM131 395h1v1h-1zM157 395h1v1h-1zM45 396h25v1h-25zM71 396h1v1h-1zM73 396h2v1h-2zM77 396h1v1h-1zM80 396h2v1h-2zM85 396h1v1h-1zM94 396h1v1h-1zM98 396h1v1h-1zM115 396h1v1h-1zM128 396h1v1h-1zM150 396h1v1h-1zM45 397h23v1h-23zM69 397h6v1h-6zM78 397h3v1h-3zM82 397h1v1h-1zM86 397h2v1h-2zM91 397h1v1h-1zM110 397h1v1h-1zM45 398h20v1h-20zM66 398h3v1h-3zM70 398h1v1h-1zM72 398h1v1h-1zM74 398h1v1h-1zM154 398h1v1h-1zM46 399h24v1h-24zM72 399h4v1h-4zM80 399h5v1h-5zM94 399h1v1h-1zM97 399h1v1h-1zM99 399h2v1h-2zM111 399h1v1h-1zM121 399h1v1h-1zM45 400h24v1h-24zM70 400h2v1h-2zM74 400h2v1h-2zM79 400h2v1h-2zM82 400h1v1h-1zM84 400h4v1h-4zM100 400h1v1h-1zM45 401h20v1h-20zM66 401h5v1h-5zM72 401h1v1h-1zM74 401h2v1h-2zM77 401h2v1h-2zM81 401h3v1h-3zM89 401h3v1h-3zM45 402h23v1h-23zM69 402h1v1h-1zM71 402h1v1h-1zM76 402h1v1h-1zM79 402h1v1h-1zM81 402h1v1h-1zM89 402h1v1h-1z"/><path id="d2" d="M406 275h1v1h-1zM406 276h2v1h-2zM412 276h1v1h-1zM405 277h1v1h-1zM431 277h1v1h-1zM403 278h1v1h-1zM425 278h1v1h-1zM418 279h1v1h-1zM416 280h1v1h-1zM418 280h1v1h-1zM423 280h1v1h-1zM415 281h1v1h-1zM427 281h1v1h-1zM401 282h1v1h-1zM411 282h1v1h-1zM406 284h1v1h-1zM418 284h1v1h-1zM423 284h1v1h-1zM411 285h1v1h-1zM413 285h1v1h-1zM418 285h1v1h-1zM420 285h1v1h-1zM404 286h1v1h-1zM408 286h1v1h-1zM416 286h2v1h-2zM429 286h1v1h-1zM407 287h1v1h-1zM418 287h1v1h-1zM445 287h1v1h-1zM454 287h1v1h-1zM406 288h1v1h-1zM404 289h1v1h-1zM407 289h1v1h-1zM414 289h1v1h-1zM422 289h1v1h-1zM440 289h1v1h-1zM405 290h1v1h-1zM415 290h1v1h-1zM418 290h1v1h-1zM420 290h2v1h-2zM440 290h1v1h-1zM398 291h1v1h-1zM403 291h1v1h-1zM411 291h1v1h-1zM414 291h1v1h-1zM416 291h1v1h-1zM423 291h1v1h-1zM426 291h1v1h-1zM438 291h1v1h-1zM410 292h1v1h-1zM413 292h1v1h-1zM417 292h1v1h-1zM429 292h1v1h-1zM432 292h1v1h-1zM402 293h1v1h-1zM418 293h1v1h-1zM421 293h1v1h-1zM427 293h1v1h-1zM429 293h1v1h-1zM431 293h1v1h-1zM437 293h1v1h-1zM443 293h1v1h-1zM403 294h1v1h-1zM406 294h1v1h-1zM414 294h1v1h-1zM421 294h1v1h-1zM433 294h3v1h-3zM437 294h1v1h-1zM444 294h1v1h-1zM409 295h1v1h-1zM412 295h3v1h-3zM416 295h1v1h-1zM418 295h1v1h-1zM422 295h1v1h-1zM444 295h1v1h-1zM405 296h1v1h-1zM410 296h1v1h-1zM412 296h2v1h-2zM416 296h1v1h-1zM421 296h1v1h-1zM430 296h1v1h-1zM437 296h1v1h-1zM439 296h1v1h-1zM446 296h1v1h-1zM411 297h1v1h-1zM414 297h1v1h-1zM421 297h1v1h-1zM427 297h1v1h-1zM431 297h1v1h-1zM404 298h1v1h-1zM410 298h1v1h-1zM412 298h1v1h-1zM416 298h1v1h-1zM424 298h1v1h-1zM440 298h1v1h-1zM412 299h1v1h-1zM420 299h1v1h-1zM422 299h1v1h-1zM426 299h2v1h-2zM436 299h1v1h-1zM444 299h1v1h-1zM404 300h1v1h-1zM414 300h2v1h-2zM417 300h1v1h-1zM426 300h1v1h-1zM431 300h1v1h-1zM439 300h1v1h-1zM444 300h1v1h-1zM377 301h1v1h-1zM404 301h1v1h-1zM406 301h1v1h-1zM409 301h1v1h-1zM413 301h1v1h-1zM417 301h1v1h-1zM423 301h1v1h-1zM427 301h1v1h-1zM433 301h1v1h-1zM444 301h1v1h-1zM384 302h1v1h-1zM391 302h1v1h-1zM410 302h1v1h-1zM412 302h1v1h-1zM414 302h1v1h-1zM422 302h1v1h-1zM424 302h1v1h-1zM427 302h4v1h-4zM437 302h2v1h-2zM443 302h1v1h-1zM448 302h1v1h-1zM383 303h1v1h-1zM415 303h1v1h-1zM421 303h3v1h-3zM425 303h1v1h-1zM428 303h1v1h-1zM431 303h1v1h-1zM433 303h1v1h-1zM435 303h1v1h-1zM443 303h1v1h-1zM454 303h1v1h-1zM401 304h1v1h-1zM408 304h1v1h-1zM419 304h2v1h-2zM423 304h3v1h-3zM429 304h1v1h-1zM431 304h1v1h-1zM440 304h1v1h-1zM411 305h1v1h-1zM413 305h1v1h-1zM416 305h1v1h-1zM422 305h1v1h-1zM425 305h1v1h-1zM428 305h1v1h-1zM431 305h1v1h-1zM434 305h1v1h-1zM437 305h1v1h-1zM440 305h2v1h-2zM449 305h1v1h-1zM414 306h1v1h-1zM425 306h2v1h-2zM434 306h3v1h-3zM444 306h1v1h-1zM446 306h1v1h-1zM452 306h1v1h-1zM457 306h1v1h-1zM360 307h1v1h-1zM389 307h1v1h-1zM410 307h1v1h-1zM417 307h1v1h-1zM419 307h1v1h-1zM425 307h1v1h-1zM430 307h3v1h-3zM438 307h1v1h-1zM443 307h1v1h-1zM410 308h1v1h-1zM413 308h1v1h-1zM419 308h1v1h-1zM428 308h1v1h-1zM440 308h1v1h-1zM453 308h1v1h-1zM456 308h1v1h-1zM410 309h1v1h-1zM413 309h1v1h-1zM415 309h1v1h-1zM425 309h1v1h-1zM430 309h2v1h-2zM433 309h1v1h-1zM436 309h1v1h-1zM441 309h1v1h-1zM446 309h1v1h-1zM450 309h1v1h-1zM456 309h1v1h-1zM459 309h1v1h-1zM387 310h1v1h-1zM393 310h1v1h-1zM402 310h1v1h-1zM410 310h1v1h-1zM423 310h1v1h-1zM426 310h1v1h-1zM432 310h2v1h-2zM435 310h1v1h-1zM438 310h3v1h-3zM442 310h1v1h-1zM447 310h1v1h-1zM459 310h1v1h-1zM383 311h2v1h-2zM388 311h2v1h-2zM408 311h2v1h-2zM411 311h1v1h-1zM418 311h1v1h-1zM421 311h1v1h-1zM424 311h1v1h-1zM426 311h1v1h-1zM429 311h1v1h-1zM432 311h1v1h-1zM439 311h1v1h-1zM461 311h1v1h-1zM467 311h2v1h-2zM364 312h1v1h-1zM372 312h1v1h-1zM389 312h1v1h-1zM404 312h2v1h-2zM415 312h1v1h-1zM419 312h3v1h-3zM423 312h1v1h-1zM427 312h2v1h-2zM432 312h1v1h-1zM434 312h2v1h-2zM438 312h1v1h-1zM341 313h1v1h-1zM351 313h1v1h-1zM388 313h1v1h-1zM394 313h1v1h-1zM397 313h1v1h-1zM407 313h1v1h-1zM412 313h3v1h-3zM417 313h1v1h-1zM424 313h1v1h-1zM426 313h1v1h-1zM429 313h1v1h-1zM431 313h2v1h-2zM435 313h3v1h-3zM439 313h1v1h-1zM441 313h1v1h-1zM444 313h1v1h-1zM448 313h1v1h-1zM331 314h1v1h-1zM353 314h1v1h-1zM382 314h1v1h-1zM397 314h1v1h-1zM409 314h1v1h-1zM411 314h1v1h-1zM418 314h1v1h-1zM421 314h2v1h-2zM432 314h1v1h-1zM434 314h1v1h-1zM437 314h3v1h-3zM446 314h1v1h-1zM448 314h1v1h-1zM456 314h1v1h-1zM459 314h1v1h-1zM393 315h2v1h-2zM409 315h1v1h-1zM419 315h1v1h-1zM421 315h1v1h-1zM423 315h1v1h-1zM434 315h1v1h-1zM439 315h1v1h-1zM441 315h2v1h-2zM455 315h1v1h-1zM381 316h1v1h-1zM389 316h1v1h-1zM417 316h1v1h-1zM422 316h1v1h-1zM424 316h1v1h-1zM428 316h1v1h-1zM430 316h1v1h-1zM434 316h1v1h-1zM440 316h1v1h-1zM442 316h2v1h-2zM452 316h1v1h-1zM372 317h2v1h-2zM385 317h1v1h-1zM415 317h1v1h-1zM424 317h2v1h-2zM429 317h1v1h-1zM431 317h1v1h-1zM440 317h1v1h-1zM445 317h1v1h-1zM450 317h1v1h-1zM351 318h1v1h-1zM388 318h1v1h-1zM403 318h1v1h-1zM420 318h2v1h-2zM425 318h1v1h-1zM429 318h1v1h-1zM431 318h1v1h-1zM433 318h2v1h-2zM438 318h1v1h-1zM449 318h1v1h-1zM376 319h1v1h-1zM423 319h1v1h-1zM426 319h2v1h-2zM439 319h1v1h-1zM441 319h1v1h-1zM445 319h1v1h-1zM460 319h1v1h-1zM418 320h1v1h-1zM424 320h1v1h-1zM429 320h1v1h-1zM437 320h1v1h-1zM440 320h3v1h-3zM445 320h1v1h-1zM450 320h1v1h-1zM453 320h1v1h-1zM457 320h2v1h-2zM462 320h1v1h-1zM404 321h1v1h-1zM418 321h1v1h-1zM421 321h1v1h-1zM425 321h2v1h-2zM429 321h1v1h-1zM437 321h1v1h-1zM444 321h1v1h-1zM447 321h1v1h-1zM373 322h1v1h-1zM377 322h1v1h-1zM396 322h1v1h-1zM413 322h1v1h-1zM415 322h1v1h-1zM432 322h1v1h-1zM438 322h1v1h-1zM440 322h1v1h-1zM443 322h1v1h-1zM448 322h2v1h-2zM453 322h1v1h-1zM455 322h1v1h-1zM372 323h1v1h-1zM412 323h1v1h-1zM416 323h1v1h-1zM419 323h1v1h-1zM424 323h1v1h-1zM428 323h2v1h-2zM431 323h1v1h-1zM434 323h2v1h-2zM437 323h1v1h-1zM442 323h1v1h-1zM444 323h2v1h-2zM463 323h1v1h-1zM394 324h1v1h-1zM398 324h1v1h-1zM430 324h1v1h-1zM434 324h1v1h-1zM436 324h1v1h-1zM438 324h2v1h-2zM444 324h1v1h-1zM446 324h1v1h-1zM409 325h1v1h-1zM430 325h1v1h-1zM441 325h1v1h-1zM444 325h1v1h-1zM458 325h1v1h-1zM387 326h1v1h-1zM393 326h1v1h-1zM406 326h1v1h-1zM428 326h1v1h-1zM435 326h1v1h-1zM438 326h1v1h-1zM441 326h1v1h-1zM446 326h1v1h-1zM449 326h1v1h-1zM453 326h2v1h-2zM386 327h2v1h-2zM422 327h1v1h-1zM432 327h1v1h-1zM439 327h1v1h-1zM445 327h2v1h-2zM456 327h1v1h-1zM432 328h1v1h-1zM437 328h1v1h-1zM441 328h1v1h-1zM444 328h1v1h-1zM358 329h1v1h-1zM396 329h1v1h-1zM427 329h1v1h-1zM432 329h1v1h-1zM442 329h1v1h-1zM449 329h1v1h-1zM461 329h1v1h-1zM431 330h1v1h-1zM447 330h1v1h-1zM452 330h1v1h-1zM459 330h1v1h-1zM475 330h1v1h-1zM391 331h1v1h-1zM435 331h1v1h-1zM443 331h1v1h-1zM446 331h1v1h-1zM457 331h1v1h-1zM382 332h1v1h-1zM389 332h1v1h-1zM414 332h1v1h-1zM435 332h1v1h-1zM437 332h1v1h-1zM457 332h1v1h-1zM430 333h1v1h-1zM432 333h1v1h-1zM437 333h1v1h-1zM442 333h1v1h-1zM448 333h1v1h-1zM463 333h2v1h-2zM353 334h1v1h-1zM431 334h1v1h-1zM436 334h1v1h-1zM442 334h1v1h-1zM449 334h2v1h-2zM439 335h1v1h-1zM444 335h1v1h-1zM467 335h2v1h-2zM416 336h1v1h-1zM424 336h2v1h-2zM439 336h1v1h-1zM456 336h1v1h-1zM428 337h1v1h-1zM440 337h1v1h-1zM447 337h2v1h-2zM450 337h1v1h-1zM417 338h1v1h-1zM444 338h1v1h-1zM457 338h1v1h-1zM429 339h1v1h-1zM437 339h1v1h-1zM441 339h2v1h-2zM445 339h1v1h-1zM450 339h1v1h-1zM455 339h1v1h-1zM408 340h1v1h-1zM421 340h2v1h-2zM434 340h1v1h-1zM437 340h1v1h-1zM442 340h1v1h-1zM452 340h1v1h-1zM454 340h1v1h-1zM460 340h1v1h-1zM506 340h1v1h-1zM409 341h1v1h-1zM416 341h1v1h-1zM422 341h2v1h-2zM426 341h1v1h-1zM436 341h1v1h-1zM440 341h1v1h-1zM442 341h2v1h-2zM445 341h1v1h-1zM448 341h1v1h-1zM455 341h2v1h-2zM506 341h1v1h-1zM416 342h1v1h-1zM418 342h1v1h-1zM421 342h1v1h-1zM431 342h2v1h-2zM454 342h1v1h-1zM457 342h1v1h-1zM506 342h1v1h-1zM421 343h1v1h-1zM439 343h1v1h-1zM441 343h1v1h-1zM448 343h1v1h-1zM454 343h2v1h-2zM457 343h3v1h-3zM505 343h1v1h-1zM415 344h1v1h-1zM421 344h1v1h-1zM434 344h1v1h-1zM452 344h1v1h-1zM459 344h1v1h-1zM506 344h1v1h-1zM346 345h1v1h-1zM415 345h1v1h-1zM423 345h1v1h-1zM442 345h2v1h-2zM450 345h1v1h-1zM456 345h1v1h-1zM459 345h1v1h-1zM474 345h1v1h-1zM505 345h2v1h-2zM427 346h1v1h-1zM435 346h1v1h-1zM444 346h1v1h-1zM452 346h1v1h-1zM457 346h1v1h-1zM506 346h2v1h-2zM421 347h1v1h-1zM431 347h1v1h-1zM433 347h1v1h-1zM435 347h1v1h-1zM437 347h1v1h-1zM439 347h1v1h-1zM443 347h1v1h-1zM447 347h1v1h-1zM453 347h1v1h-1zM460 347h1v1h-1zM507 347h1v1h-1zM402 348h1v1h-1zM420 348h1v1h-1zM439 348h1v1h-1zM446 348h1v1h-1zM449 348h2v1h-2zM456 348h1v1h-1zM459 348h1v1h-1zM462 348h1v1h-1zM506 348h1v1h-1zM432 349h1v1h-1zM441 349h1v1h-1zM449 349h1v1h-1zM506 349h1v1h-1zM421 350h1v1h-1zM427 350h1v1h-1zM434 350h2v1h-2zM439 350h1v1h-1zM451 350h1v1h-1zM453 350h1v1h-1zM458 350h1v1h-1zM424 351h1v1h-1zM433 351h1v1h-1zM441 351h1v1h-1zM392 352h1v1h-1zM440 352h1v1h-1zM452 352h1v1h-1zM464 352h1v1h-1zM359 353h1v1h-1zM390 353h1v1h-1zM407 353h1v1h-1zM425 353h1v1h-1zM427 353h1v1h-1zM434 353h1v1h-1zM436 353h1v1h-1zM443 353h1v1h-1zM446 353h2v1h-2zM454 353h1v1h-1zM505 353h1v1h-1zM424 354h1v1h-1zM427 354h1v1h-1zM433 354h1v1h-1zM436 354h1v1h-1zM440 354h1v1h-1zM444 354h1v1h-1zM449 354h5v1h-5zM461 354h1v1h-1zM496 354h1v1h-1zM356 355h1v1h-1zM437 355h1v1h-1zM440 355h2v1h-2zM446 355h1v1h-1zM450 355h1v1h-1zM458 355h1v1h-1zM464 355h1v1h-1zM506 355h1v1h-1zM409 356h1v1h-1zM427 356h1v1h-1zM435 356h1v1h-1zM441 356h1v1h-1zM443 356h2v1h-2zM459 356h1v1h-1zM425 357h2v1h-2zM429 357h1v1h-1zM437 357h1v1h-1zM448 357h1v1h-1zM455 357h2v1h-2zM474 357h1v1h-1zM506 357h2v1h-2zM405 358h1v1h-1zM431 358h1v1h-1zM434 358h2v1h-2zM438 358h2v1h-2zM442 358h1v1h-1zM445 358h1v1h-1zM452 358h1v1h-1zM463 358h1v1h-1zM413 359h1v1h-1zM424 359h1v1h-1zM431 359h1v1h-1zM434 359h2v1h-2zM438 359h3v1h-3zM444 359h1v1h-1zM453 359h1v1h-1zM505 359h1v1h-1zM419 360h1v1h-1zM430 360h2v1h-2zM434 360h1v1h-1zM443 360h1v1h-1zM452 360h1v1h-1zM459 360h1v1h-1zM470 360h1v1h-1zM477 360h1v1h-1zM502 360h1v1h-1zM338 361h1v1h-1zM421 361h1v1h-1zM436 361h1v1h-1zM438 361h1v1h-1zM440 361h1v1h-1zM442 361h1v1h-1zM445 361h2v1h-2zM451 361h1v1h-1zM454 361h1v1h-1zM460 361h2v1h-2zM463 361h1v1h-1zM439 362h3v1h-3zM451 362h2v1h-2zM454 362h1v1h-1zM461 362h1v1h-1zM505 362h1v1h-1zM507 362h1v1h-1zM370 363h1v1h-1zM425 363h1v1h-1zM427 363h1v1h-1zM435 363h3v1h-3zM440 363h2v1h-2zM443 363h2v1h-2zM448 363h1v1h-1zM451 363h1v1h-1zM461 363h2v1h-2zM506 363h1v1h-1zM356 364h1v1h-1zM399 364h1v1h-1zM403 364h1v1h-1zM420 364h1v1h-1zM431 364h1v1h-1zM435 364h1v1h-1zM438 364h1v1h-1zM441 364h1v1h-1zM443 364h1v1h-1zM453 364h1v1h-1zM462 364h1v1h-1zM479 364h1v1h-1zM483 364h1v1h-1zM506 364h1v1h-1zM357 365h1v1h-1zM365 365h1v1h-1zM382 365h1v1h-1zM419 365h1v1h-1zM435 365h1v1h-1zM437 365h2v1h-2zM448 365h1v1h-1zM472 365h1v1h-1zM506 365h1v1h-1zM322 366h1v1h-1zM354 366h1v1h-1zM411 366h1v1h-1zM443 366h1v1h-1zM445 366h1v1h-1zM447 366h1v1h-1zM452 366h2v1h-2zM455 366h1v1h-1zM457 366h1v1h-1zM461 366h1v1h-1zM473 366h1v1h-1zM506 366h1v1h-1zM413 367h1v1h-1zM416 367h1v1h-1zM425 367h1v1h-1zM430 367h2v1h-2zM435 367h1v1h-1zM438 367h1v1h-1zM440 367h5v1h-5zM446 367h3v1h-3zM456 367h2v1h-2zM506 367h1v1h-1zM426 368h1v1h-1zM430 368h1v1h-1zM435 368h1v1h-1zM439 368h1v1h-1zM442 368h1v1h-1zM451 368h2v1h-2zM456 368h2v1h-2zM459 368h1v1h-1zM463 368h1v1h-1zM500 368h1v1h-1zM506 368h1v1h-1zM380 369h1v1h-1zM430 369h2v1h-2zM433 369h1v1h-1zM439 369h1v1h-1zM441 369h1v1h-1zM443 369h1v1h-1zM446 369h1v1h-1zM450 369h4v1h-4zM460 369h1v1h-1zM462 369h2v1h-2zM468 369h1v1h-1zM505 369h1v1h-1zM507 369h1v1h-1zM430 370h2v1h-2zM433 370h2v1h-2zM443 370h2v1h-2zM448 370h2v1h-2zM451 370h1v1h-1zM453 370h1v1h-1zM458 370h1v1h-1zM461 370h1v1h-1zM505 370h1v1h-1zM416 371h1v1h-1zM428 371h1v1h-1zM431 371h1v1h-1zM437 371h3v1h-3zM441 371h1v1h-1zM447 371h1v1h-1zM453 371h1v1h-1zM459 371h2v1h-2zM462 371h1v1h-1zM468 371h1v1h-1zM477 371h1v1h-1zM506 371h1v1h-1zM345 372h1v1h-1zM391 372h1v1h-1zM417 372h1v1h-1zM436 372h1v1h-1zM442 372h1v1h-1zM451 372h1v1h-1zM480 372h1v1h-1zM506 372h1v1h-1zM379 373h1v1h-1zM385 373h1v1h-1zM394 373h1v1h-1zM410 373h1v1h-1zM437 373h1v1h-1zM441 373h2v1h-2zM450 373h1v1h-1zM452 373h2v1h-2zM456 373h1v1h-1zM506 373h1v1h-1zM408 374h1v1h-1zM428 374h1v1h-1zM436 374h1v1h-1zM440 374h1v1h-1zM454 374h2v1h-2zM462 374h2v1h-2zM434 375h1v1h-1zM437 375h1v1h-1zM445 375h1v1h-1zM447 375h1v1h-1zM449 375h1v1h-1zM451 375h1v1h-1zM460 375h1v1h-1zM501 375h1v1h-1zM378 376h1v1h-1zM419 376h1v1h-1zM422 376h2v1h-2zM434 376h1v1h-1zM436 376h1v1h-1zM442 376h1v1h-1zM457 376h1v1h-1zM459 376h1v1h-1zM466 376h1v1h-1zM473 376h1v1h-1zM506 376h1v1h-1zM322 377h1v1h-1zM403 377h1v1h-1zM417 377h1v1h-1zM441 377h1v1h-1zM449 377h1v1h-1zM455 377h1v1h-1zM505 377h3v1h-3zM402 378h1v1h-1zM418 378h1v1h-1zM449 378h1v1h-1zM459 378h1v1h-1zM505 378h1v1h-1zM507 378h1v1h-1zM432 379h5v1h-5zM438 379h1v1h-1zM442 379h2v1h-2zM446 379h2v1h-2zM454 379h1v1h-1zM456 379h1v1h-1zM459 379h1v1h-1zM466 379h2v1h-2zM502 379h1v1h-1zM505 379h1v1h-1zM333 380h1v1h-1zM440 380h1v1h-1zM443 380h1v1h-1zM450 380h2v1h-2zM454 380h1v1h-1zM458 380h1v1h-1zM464 380h1v1h-1zM405 381h1v1h-1zM437 381h2v1h-2zM447 381h1v1h-1zM506 381h1v1h-1zM379 382h1v1h-1zM431 382h1v1h-1zM433 382h1v1h-1zM436 382h1v1h-1zM446 382h1v1h-1zM454 382h1v1h-1zM462 382h1v1h-1zM472 382h1v1h-1zM401 383h1v1h-1zM436 383h1v1h-1zM373 384h1v1h-1zM398 384h1v1h-1zM440 384h1v1h-1zM456 384h1v1h-1zM382 385h1v1h-1zM414 385h1v1h-1zM425 385h1v1h-1zM437 385h1v1h-1zM448 385h1v1h-1zM460 385h1v1h-1zM462 385h1v1h-1zM484 385h1v1h-1zM498 385h1v1h-1zM503 385h1v1h-1zM427 386h1v1h-1zM447 386h1v1h-1zM449 386h1v1h-1zM452 386h1v1h-1zM420 387h2v1h-2zM425 387h1v1h-1zM443 387h1v1h-1zM461 387h1v1h-1zM463 387h1v1h-1zM435 388h1v1h-1zM441 388h2v1h-2zM453 388h1v1h-1zM329 390h1v1h-1zM407 390h1v1h-1zM417 390h1v1h-1zM433 390h1v1h-1zM438 390h1v1h-1zM440 390h1v1h-1zM357 391h1v1h-1zM384 391h1v1h-1zM456 391h1v1h-1zM427 392h1v1h-1zM441 393h1v1h-1zM449 393h1v1h-1zM457 396h1v1h-1zM419 397h1v1h-1zM427 397h1v1h-1zM449 397h1v1h-1zM425 398h1v1h-1zM436 399h1v1h-1zM415 400h1v1h-1zM457 400h1v1h-1z"/></defs>
<rect width="520" height="440" fill="#fff"/>
<use href="#d1" fill="none" stroke="#000" stroke-opacity="0.3" stroke-width="1"/>
<use href="#d1" fill="#000" shape-rendering="crispEdges"/>
<use href="#d2" fill="none" stroke="#000" stroke-opacity="0.18" stroke-width="1"/>
<use href="#d2" fill="#333" shape-rendering="crispEdges"/>
<g filter="url(#nf)">
<rect x="37.00" y="9.50" width="208.40" height="172.60" stroke="#000" stroke-width="1.4" fill="none"/>
<rect x="305.70" y="9.00" width="207.10" height="172.80" stroke="#000" stroke-width="1.4" fill="none"/>
<rect x="39.30" y="237.90" width="205.80" height="166.00" stroke="#000" stroke-width="1.4" fill="none"/>
<rect x="305.90" y="237.50" width="206.00" height="166.30" stroke="#000" stroke-width="1.4" fill="none"/>
<path d="M37.00 182.10L37.00 187.10" stroke="#000" stroke-width="1.1" fill="none"/>
<text x="37.00" y="196.30" font-family="Liberation Sans, sans-serif" font-size="10.5" font-weight="normal" text-anchor="middle" class="t">0</text>
<path d="M45.11 182.10L45.11 184.70" stroke="#000" stroke-width="1.1" fill="none"/>
<path d="M53.22 182.10L53.22 184.70" stroke="#000" stroke-width="1.1" fill="none"/>
<path d="M61.34 182.10L61.34 184.70" stroke="#000" stroke-width="1.1" fill="none"/>
<path d="M69.45 182.10L69.45 184.70" stroke="#000" stroke-width="1.1" fill="none"/>
<path d="M77.56 182.10L77.56 187.10" stroke="#000" stroke-width="1.1" fill="none"/>
<text x="77.56" y="196.30" font-family="Liberation Sans, sans-serif" font-size="10.5" font-weight="normal" text-anchor="middle" class="t">200</text>
<path d="M85.67 182.10L85.67 184.70" stroke="#000" stroke-width="1.1" fill="none"/>
<path d="M93.78 182.10L93.78 184.70" stroke="#000" stroke-width="1.1" fill="none"/>
<path d="M101.90 182.10L101.90 184.70" stroke="#000" stroke-width="1.1" fill="none"/>
<path d="M110.01 182.10L110.01 184.70" stroke="#000" stroke-width="1.1" fill="none"/>
<path d="M118.12 182.10L118.12 187.10" stroke="#000" stroke-width="1.1" fill="none"/>
<text x="118.12" y="196.30" font-family="Liberation Sans, sans-serif" font-size="10.5" font-weight="normal" text-anchor="middle" class="t">400</text>
<path d="M126.23 182.10L126.23 184.70" stroke="#000" stroke-width="1.1" fill="none"/>
<path d="M134.34 182.10L134.34 184.70" stroke="#000" stroke-width="1.1" fill="none"/>
<path d="M142.46 182.10L142.46 184.70" stroke="#000" stroke-width="1.1" fill="none"/>
<path d="M150.57 182.10L150.57 184.70" stroke="#000" stroke-width="1.1" fill="none"/>
<path d="M158.68 182.10L158.68 187.10" stroke="#000" stroke-width="1.1" fill="none"/>
<text x="158.68" y="196.30" font-family="Liberation Sans, sans-serif" font-size="10.5" font-weight="normal" text-anchor="middle" class="t">600</text>
<path d="M166.79 182.10L166.79 184.70" stroke="#000" stroke-width="1.1" fill="none"/>
<path d="M174.90 182.10L174.90 184.70" stroke="#000" stroke-width="1.1" fill="none"/>
<path d="M183.02 182.10L183.02 184.70" stroke="#000" stroke-width="1.1" fill="none"/>
<path d="M191.13 182.10L191.13 184.70" stroke="#000" stroke-width="1.1" fill="none"/>
<path d="M199.24 182.10L199.24 187.10" stroke="#000" stroke-width="1.1" fill="none"/>
<text x="199.24" y="196.30" font-family="Liberation Sans, sans-serif" font-size="10.5" font-weight="normal" text-anchor="middle" class="t">800</text>
<path d="M207.35 182.10L207.35 184.70" stroke="#000" stroke-width="1.1" fill="none"/>
<path d="M215.46 182.10L215.46 184.70" stroke="#000" stroke-width="1.1" fill="none"/>
<path d="M223.58 182.10L223.58 184.70" stroke="#000" stroke-width="1.1" fill="none"/>
<path d="M231.69 182.10L231.69 184.70" stroke="#000" stroke-width="1.1" fill="none"/>
<path d="M239.80 182.10L239.80 187.10" stroke="#000" stroke-width="1.1" fill="none"/>
<text x="239.80" y="196.30" font-family="Liberation Sans, sans-serif" font-size="10.5" font-weight="normal" text-anchor="middle" class="t">1000</text>
<path d="M37.00 182.00L32.00 182.00" stroke="#000" stroke-width="1.1" fill="none"/>
<text x="27.70" y="182.00" font-family="Liberation Sans, sans-serif" font-size="10.5" font-weight="normal" text-anchor="middle" class="t" transform="rotate(-90 27.70 182.00)">0</text>
<path d="M37.00 175.31L34.40 175.31" stroke="#000" stroke-width="1.1" fill="none"/>
<path d="M37.00 168.62L34.40 168.62" stroke="#000" stroke-width="1.1" fill="none"/>
<path d="M37.00 161.94L34.40 161.94" stroke="#000" stroke-width="1.1" fill="none"/>
<path d="M37.00 155.25L34.40 155.25" stroke="#000" stroke-width="1.1" fill="none"/>
<path d="M37.00 148.56L32.00 148.56" stroke="#000" stroke-width="1.1" fill="none"/>
<text x="27.70" y="148.56" font-family="Liberation Sans, sans-serif" font-size="10.5" font-weight="normal" text-anchor="middle" class="t" transform="rotate(-90 27.70 148.56)">200</text>
<path d="M37.00 141.87L34.40 141.87" stroke="#000" stroke-width="1.1" fill="none"/>
<path d="M37.00 135.18L34.40 135.18" stroke="#000" stroke-width="1.1" fill="none"/>
<path d="M37.00 128.50L34.40 128.50" stroke="#000" stroke-width="1.1" fill="none"/>
<path d="M37.00 121.81L34.40 121.81" stroke="#000" stroke-width="1.1" fill="none"/>
<path d="M37.00 115.12L32.00 115.12" stroke="#000" stroke-width="1.1" fill="none"/>
<text x="27.70" y="115.12" font-family="Liberation Sans, sans-serif" font-size="10.5" font-weight="normal" text-anchor="middle" class="t" transform="rotate(-90 27.70 115.12)">400</text>
<path d="M37.00 108.43L34.40 108.43" stroke="#000" stroke-width="1.1" fill="none"/>
<path d="M37.00 101.74L34.40 101.74" stroke="#000" stroke-width="1.1" fill="none"/>
<path d="M37.00 95.06L34.40 95.06" stroke="#000" stroke-width="1.1" fill="none"/>
<path d="M37.00 88.37L34.40 88.37" stroke="#000" stroke-width="1.1" fill="none"/>
<path d="M37.00 81.68L32.00 81.68" stroke="#000" stroke-width="1.1" fill="none"/>
<text x="27.70" y="81.68" font-family="Liberation Sans, sans-serif" font-size="10.5" font-weight="normal" text-anchor="middle" class="t" transform="rotate(-90 27.70 81.68)">600</text>
<path d="M37.00 74.99L34.40 74.99" stroke="#000" stroke-width="1.1" fill="none"/>
<path d="M37.00 68.30L34.40 68.30" stroke="#000" stroke-width="1.1" fill="none"/>
<path d="M37.00 61.62L34.40 61.62" stroke="#000" stroke-width="1.1" fill="none"/>
<path d="M37.00 54.93L34.40 54.93" stroke="#000" stroke-width="1.1" fill="none"/>
<path d="M37.00 48.24L32.00 48.24" stroke="#000" stroke-width="1.1" fill="none"/>
<text x="27.70" y="48.24" font-family="Liberation Sans, sans-serif" font-size="10.5" font-weight="normal" text-anchor="middle" class="t" transform="rotate(-90 27.70 48.24)">800</text>
<path d="M37.00 41.55L34.40 41.55" stroke="#000" stroke-width="1.1" fill="none"/>
<path d="M37.00 34.86L34.40 34.86" stroke="#000" stroke-width="1.1" fill="none"/>
<path d="M37.00 28.18L34.40 28.18" stroke="#000" stroke-width="1.1" fill="none"/>
<path d="M37.00 21.49L34.40 21.49" stroke="#000" stroke-width="1.1" fill="none"/>
<path d="M37.00 14.80L32.00 14.80" stroke="#000" stroke-width="1.1" fill="none"/>
<text x="27.70" y="14.80" font-family="Liberation Sans, sans-serif" font-size="10.5" font-weight="normal" text-anchor="middle" class="t" transform="rotate(-90 27.70 14.80)">1000</text>
<path d="M305.80 181.80L305.80 186.80" stroke="#000" stroke-width="1.1" fill="none"/>
<text x="305.80" y="196.00" font-family="Liberation Sans, sans-serif" font-size="10.5" font-weight="normal" text-anchor="middle" class="t">0</text>
<path d="M313.84 181.80L313.84 184.40" stroke="#000" stroke-width="1.1" fill="none"/>
<path d="M321.88 181.80L321.88 184.40" stroke="#000" stroke-width="1.1" fill="none"/>
<path d="M329.92 181.80L329.92 184.40" stroke="#000" stroke-width="1.1" fill="none"/>
<path d="M337.96 181.80L337.96 184.40" stroke="#000" stroke-width="1.1" fill="none"/>
<path d="M346.00 181.80L346.00 186.80" stroke="#000" stroke-width="1.1" fill="none"/>
<text x="346.00" y="196.00" font-family="Liberation Sans, sans-serif" font-size="10.5" font-weight="normal" text-anchor="middle" class="t">200</text>
<path d="M354.04 181.80L354.04 184.40" stroke="#000" stroke-width="1.1" fill="none"/>
<path d="M362.08 181.80L362.08 184.40" stroke="#000" stroke-width="1.1" fill="none"/>
<path d="M370.12 181.80L370.12 184.40" stroke="#000" stroke-width="1.1" fill="none"/>
<path d="M378.16 181.80L378.16 184.40" stroke="#000" stroke-width="1.1" fill="none"/>
<path d="M386.20 181.80L386.20 186.80" stroke="#000" stroke-width="1.1" fill="none"/>
<text x="386.20" y="196.00" font-family="Liberation Sans, sans-serif" font-size="10.5" font-weight="normal" text-anchor="middle" class="t">400</text>
<path d="M394.24 181.80L394.24 184.40" stroke="#000" stroke-width="1.1" fill="none"/>
<path d="M402.28 181.80L402.28 184.40" stroke="#000" stroke-width="1.1" fill="none"/>
<path d="M410.32 181.80L410.32 184.40" stroke="#000" stroke-width="1.1" fill="none"/>
<path d="M418.36 181.80L418.36 184.40" stroke="#000" stroke-width="1.1" fill="none"/>
<path d="M426.40 181.80L426.40 186.80" stroke="#000" stroke-width="1.1" fill="none"/>
<text x="426.40" y="196.00" font-family="Liberation Sans, sans-serif" font-size="10.5" font-weight="normal" text-anchor="middle" class="t">600</text>
<path d="M434.44 181.80L434.44 184.40" stroke="#000" stroke-width="1.1" fill="none"/>
<path d="M442.48 181.80L442.48 184.40" stroke="#000" stroke-width="1.1" fill="none"/>
<path d="M450.52 181.80L450.52 184.40" stroke="#000" stroke-width="1.1" fill="none"/>
<path d="M458.56 181.80L458.56 184.40" stroke="#000" stroke-width="1.1" fill="none"/>
<path d="M466.60 181.80L466.60 186.80" stroke="#000" stroke-width="1.1" fill="none"/>
<text x="466.60" y="196.00" font-family="Liberation Sans, sans-serif" font-size="10.5" font-weight="normal" text-anchor="middle" class="t">800</text>
<path d="M474.64 181.80L474.64 184.40" stroke="#000" stroke-width="1.1" fill="none"/>
<path d="M482.68 181.80L482.68 184.40" stroke="#000" stroke-width="1.1" fill="none"/>
<path d="M490.72 181.80L490.72 184.40" stroke="#000" stroke-width="1.1" fill="none"/>
<path d="M498.76 181.80L498.76 184.40" stroke="#000" stroke-width="1.1" fill="none"/>
<path d="M506.80 181.80L506.80 186.80" stroke="#000" stroke-width="1.1" fill="none"/>
<text x="506.80" y="196.00" font-family="Liberation Sans, sans-serif" font-size="10.5" font-weight="normal" text-anchor="middle" class="t">1000</text>
<path d="M305.70 181.40L299.70 181.40" stroke="#000" stroke-width="1.1" fill="none"/>
<g transform="translate(296.90 192.00) rotate(-90)"><text x="0" y="0" font-family="Liberation Sans, sans-serif" font-size="10.5" class="t">10</text><text x="14.4" y="-5.1" font-family="Liberation Sans, sans-serif" font-size="10">0</text></g>
<path d="M305.70 168.55L302.70 168.55" stroke="#000" stroke-width="0.9" fill="none"/>
<path d="M305.70 161.03L302.70 161.03" stroke="#000" stroke-width="0.9" fill="none"/>
<path d="M305.70 155.69L302.70 155.69" stroke="#000" stroke-width="0.9" fill="none"/>
<path d="M305.70 151.55L302.70 151.55" stroke="#000" stroke-width="0.9" fill="none"/>
<path d="M305.70 148.17L302.70 148.17" stroke="#000" stroke-width="0.9" fill="none"/>
<path d="M305.70 145.31L302.70 145.31" stroke="#000" stroke-width="0.9" fill="none"/>
<path d="M305.70 142.84L302.70 142.84" stroke="#000" stroke-width="0.9" fill="none"/>
<path d="M305.70 140.65L302.70 140.65" stroke="#000" stroke-width="0.9" fill="none"/>
<path d="M305.70 138.70L299.70 138.70" stroke="#000" stroke-width="1.1" fill="none"/>
<g transform="translate(296.90 149.30) rotate(-90)"><text x="0" y="0" font-family="Liberation Sans, sans-serif" font-size="10.5" class="t">10</text><text x="14.4" y="-5.1" font-family="Liberation Sans, sans-serif" font-size="10">1</text></g>
<path d="M305.70 125.85L302.70 125.85" stroke="#000" stroke-width="0.9" fill="none"/>
<path d="M305.70 118.33L302.70 118.33" stroke="#000" stroke-width="0.9" fill="none"/>
<path d="M305.70 112.99L302.70 112.99" stroke="#000" stroke-width="0.9" fill="none"/>
<path d="M305.70 108.85L302.70 108.85" stroke="#000" stroke-width="0.9" fill="none"/>
<path d="M305.70 105.47L302.70 105.47" stroke="#000" stroke-width="0.9" fill="none"/>
<path d="M305.70 102.61L302.70 102.61" stroke="#000" stroke-width="0.9" fill="none"/>
<path d="M305.70 100.14L302.70 100.14" stroke="#000" stroke-width="0.9" fill="none"/>
<path d="M305.70 97.95L302.70 97.95" stroke="#000" stroke-width="0.9" fill="none"/>
<path d="M305.70 96.00L299.70 96.00" stroke="#000" stroke-width="1.1" fill="none"/>
<g transform="translate(296.90 106.60) rotate(-90)"><text x="0" y="0" font-family="Liberation Sans, sans-serif" font-size="10.5" class="t">10</text><text x="14.4" y="-5.1" font-family="Liberation Sans, sans-serif" font-size="10">2</text></g>
<path d="M305.70 83.15L302.70 83.15" stroke="#000" stroke-width="0.9" fill="none"/>
<path d="M305.70 75.63L302.70 75.63" stroke="#000" stroke-width="0.9" fill="none"/>
<path d="M305.70 70.29L302.70 70.29" stroke="#000" stroke-width="0.9" fill="none"/>
<path d="M305.70 66.15L302.70 66.15" stroke="#000" stroke-width="0.9" fill="none"/>
<path d="M305.70 62.77L302.70 62.77" stroke="#000" stroke-width="0.9" fill="none"/>
<path d="M305.70 59.91L302.70 59.91" stroke="#000" stroke-width="0.9" fill="none"/>
<path d="M305.70 57.44L302.70 57.44" stroke="#000" stroke-width="0.9" fill="none"/>
<path d="M305.70 55.25L302.70 55.25" stroke="#000" stroke-width="0.9" fill="none"/>
<path d="M305.70 53.30L299.70 53.30" stroke="#000" stroke-width="1.1" fill="none"/>
<g transform="translate(296.90 63.90) rotate(-90)"><text x="0" y="0" font-family="Liberation Sans, sans-serif" font-size="10.5" class="t">10</text><text x="14.4" y="-5.1" font-family="Liberation Sans, sans-serif" font-size="10">3</text></g>
<path d="M305.70 40.45L302.70 40.45" stroke="#000" stroke-width="0.9" fill="none"/>
<path d="M305.70 32.93L302.70 32.93" stroke="#000" stroke-width="0.9" fill="none"/>
<path d="M305.70 27.59L302.70 27.59" stroke="#000" stroke-width="0.9" fill="none"/>
<path d="M305.70 23.45L302.70 23.45" stroke="#000" stroke-width="0.9" fill="none"/>
<path d="M305.70 20.07L302.70 20.07" stroke="#000" stroke-width="0.9" fill="none"/>
<path d="M305.70 17.21L302.70 17.21" stroke="#000" stroke-width="0.9" fill="none"/>
<path d="M305.70 14.74L302.70 14.74" stroke="#000" stroke-width="0.9" fill="none"/>
<path d="M305.70 12.55L302.70 12.55" stroke="#000" stroke-width="0.9" fill="none"/>
<path d="M305.70 10.60L299.70 10.60" stroke="#000" stroke-width="1.1" fill="none"/>
<g transform="translate(296.90 21.20) rotate(-90)"><text x="0" y="0" font-family="Liberation Sans, sans-serif" font-size="10.5" class="t">10</text><text x="14.4" y="-5.1" font-family="Liberation Sans, sans-serif" font-size="10">4</text></g>
<path d="M39.80 403.90L39.80 408.90" stroke="#000" stroke-width="1.1" fill="none"/>
<text x="39.80" y="418.10" font-family="Liberation Sans, sans-serif" font-size="10.5" font-weight="normal" text-anchor="middle" class="t">0</text>
<path d="M47.78 403.90L47.78 406.50" stroke="#000" stroke-width="1.1" fill="none"/>
<path d="M55.76 403.90L55.76 406.50" stroke="#000" stroke-width="1.1" fill="none"/>
<path d="M63.74 403.90L63.74 406.50" stroke="#000" stroke-width="1.1" fill="none"/>
<path d="M71.72 403.90L71.72 406.50" stroke="#000" stroke-width="1.1" fill="none"/>
<path d="M79.70 403.90L79.70 408.90" stroke="#000" stroke-width="1.1" fill="none"/>
<text x="79.70" y="418.10" font-family="Liberation Sans, sans-serif" font-size="10.5" font-weight="normal" text-anchor="middle" class="t">200</text>
<path d="M87.68 403.90L87.68 406.50" stroke="#000" stroke-width="1.1" fill="none"/>
<path d="M95.66 403.90L95.66 406.50" stroke="#000" stroke-width="1.1" fill="none"/>
<path d="M103.64 403.90L103.64 406.50" stroke="#000" stroke-width="1.1" fill="none"/>
<path d="M111.62 403.90L111.62 406.50" stroke="#000" stroke-width="1.1" fill="none"/>
<path d="M119.60 403.90L119.60 408.90" stroke="#000" stroke-width="1.1" fill="none"/>
<text x="119.60" y="418.10" font-family="Liberation Sans, sans-serif" font-size="10.5" font-weight="normal" text-anchor="middle" class="t">400</text>
<path d="M127.58 403.90L127.58 406.50" stroke="#000" stroke-width="1.1" fill="none"/>
<path d="M135.56 403.90L135.56 406.50" stroke="#000" stroke-width="1.1" fill="none"/>
<path d="M143.54 403.90L143.54 406.50" stroke="#000" stroke-width="1.1" fill="none"/>
<path d="M151.52 403.90L151.52 406.50" stroke="#000" stroke-width="1.1" fill="none"/>
<path d="M159.50 403.90L159.50 408.90" stroke="#000" stroke-width="1.1" fill="none"/>
<text x="159.50" y="418.10" font-family="Liberation Sans, sans-serif" font-size="10.5" font-weight="normal" text-anchor="middle" class="t">600</text>
<path d="M167.48 403.90L167.48 406.50" stroke="#000" stroke-width="1.1" fill="none"/>
<path d="M175.46 403.90L175.46 406.50" stroke="#000" stroke-width="1.1" fill="none"/>
<path d="M183.44 403.90L183.44 406.50" stroke="#000" stroke-width="1.1" fill="none"/>
<path d="M191.42 403.90L191.42 406.50" stroke="#000" stroke-width="1.1" fill="none"/>
<path d="M199.40 403.90L199.40 408.90" stroke="#000" stroke-width="1.1" fill="none"/>
<text x="199.40" y="418.10" font-family="Liberation Sans, sans-serif" font-size="10.5" font-weight="normal" text-anchor="middle" class="t">800</text>
<path d="M207.38 403.90L207.38 406.50" stroke="#000" stroke-width="1.1" fill="none"/>
<path d="M215.36 403.90L215.36 406.50" stroke="#000" stroke-width="1.1" fill="none"/>
<path d="M223.34 403.90L223.34 406.50" stroke="#000" stroke-width="1.1" fill="none"/>
<path d="M231.32 403.90L231.32 406.50" stroke="#000" stroke-width="1.1" fill="none"/>
<path d="M239.30 403.90L239.30 408.90" stroke="#000" stroke-width="1.1" fill="none"/>
<text x="239.30" y="418.10" font-family="Liberation Sans, sans-serif" font-size="10.5" font-weight="normal" text-anchor="middle" class="t">1000</text>
<path d="M39.30 403.30L33.30 403.30" stroke="#000" stroke-width="1.1" fill="none"/>
<g transform="translate(30.50 413.90) rotate(-90)"><text x="0" y="0" font-family="Liberation Sans, sans-serif" font-size="10.5" class="t">10</text><text x="14.4" y="-5.1" font-family="Liberation Sans, sans-serif" font-size="10">0</text></g>
<path d="M39.30 390.93L36.30 390.93" stroke="#000" stroke-width="0.9" fill="none"/>
<path d="M39.30 383.69L36.30 383.69" stroke="#000" stroke-width="0.9" fill="none"/>
<path d="M39.30 378.56L36.30 378.56" stroke="#000" stroke-width="0.9" fill="none"/>
<path d="M39.30 374.57L36.30 374.57" stroke="#000" stroke-width="0.9" fill="none"/>
<path d="M39.30 371.32L36.30 371.32" stroke="#000" stroke-width="0.9" fill="none"/>
<path d="M39.30 368.57L36.30 368.57" stroke="#000" stroke-width="0.9" fill="none"/>
<path d="M39.30 366.18L36.30 366.18" stroke="#000" stroke-width="0.9" fill="none"/>
<path d="M39.30 364.08L36.30 364.08" stroke="#000" stroke-width="0.9" fill="none"/>
<path d="M39.30 362.20L33.30 362.20" stroke="#000" stroke-width="1.1" fill="none"/>
<g transform="translate(30.50 372.80) rotate(-90)"><text x="0" y="0" font-family="Liberation Sans, sans-serif" font-size="10.5" class="t">10</text><text x="14.4" y="-5.1" font-family="Liberation Sans, sans-serif" font-size="10">1</text></g>
<path d="M39.30 349.83L36.30 349.83" stroke="#000" stroke-width="0.9" fill="none"/>
<path d="M39.30 342.59L36.30 342.59" stroke="#000" stroke-width="0.9" fill="none"/>
<path d="M39.30 337.46L36.30 337.46" stroke="#000" stroke-width="0.9" fill="none"/>
<path d="M39.30 333.47L36.30 333.47" stroke="#000" stroke-width="0.9" fill="none"/>
<path d="M39.30 330.22L36.30 330.22" stroke="#000" stroke-width="0.9" fill="none"/>
<path d="M39.30 327.47L36.30 327.47" stroke="#000" stroke-width="0.9" fill="none"/>
<path d="M39.30 325.08L36.30 325.08" stroke="#000" stroke-width="0.9" fill="none"/>
<path d="M39.30 322.98L36.30 322.98" stroke="#000" stroke-width="0.9" fill="none"/>
<path d="M39.30 321.10L33.30 321.10" stroke="#000" stroke-width="1.1" fill="none"/>
<g transform="translate(30.50 331.70) rotate(-90)"><text x="0" y="0" font-family="Liberation Sans, sans-serif" font-size="10.5" class="t">10</text><text x="14.4" y="-5.1" font-family="Liberation Sans, sans-serif" font-size="10">2</text></g>
<path d="M39.30 308.73L36.30 308.73" stroke="#000" stroke-width="0.9" fill="none"/>
<path d="M39.30 301.49L36.30 301.49" stroke="#000" stroke-width="0.9" fill="none"/>
<path d="M39.30 296.36L36.30 296.36" stroke="#000" stroke-width="0.9" fill="none"/>
<path d="M39.30 292.37L36.30 292.37" stroke="#000" stroke-width="0.9" fill="none"/>
<path d="M39.30 289.12L36.30 289.12" stroke="#000" stroke-width="0.9" fill="none"/>
<path d="M39.30 286.37L36.30 286.37" stroke="#000" stroke-width="0.9" fill="none"/>
<path d="M39.30 283.98L36.30 283.98" stroke="#000" stroke-width="0.9" fill="none"/>
<path d="M39.30 281.88L36.30 281.88" stroke="#000" stroke-width="0.9" fill="none"/>
<path d="M39.30 280.00L33.30 280.00" stroke="#000" stroke-width="1.1" fill="none"/>
<g transform="translate(30.50 290.60) rotate(-90)"><text x="0" y="0" font-family="Liberation Sans, sans-serif" font-size="10.5" class="t">10</text><text x="14.4" y="-5.1" font-family="Liberation Sans, sans-serif" font-size="10">3</text></g>
<path d="M39.30 267.63L36.30 267.63" stroke="#000" stroke-width="0.9" fill="none"/>
<path d="M39.30 260.39L36.30 260.39" stroke="#000" stroke-width="0.9" fill="none"/>
<path d="M39.30 255.26L36.30 255.26" stroke="#000" stroke-width="0.9" fill="none"/>
<path d="M39.30 251.27L36.30 251.27" stroke="#000" stroke-width="0.9" fill="none"/>
<path d="M39.30 248.02L36.30 248.02" stroke="#000" stroke-width="0.9" fill="none"/>
<path d="M39.30 245.27L36.30 245.27" stroke="#000" stroke-width="0.9" fill="none"/>
<path d="M39.30 242.88L36.30 242.88" stroke="#000" stroke-width="0.9" fill="none"/>
<path d="M39.30 240.78L36.30 240.78" stroke="#000" stroke-width="0.9" fill="none"/>
<path d="M39.30 238.90L33.30 238.90" stroke="#000" stroke-width="1.1" fill="none"/>
<g transform="translate(30.50 249.50) rotate(-90)"><text x="0" y="0" font-family="Liberation Sans, sans-serif" font-size="10.5" class="t">10</text><text x="14.4" y="-5.1" font-family="Liberation Sans, sans-serif" font-size="10">4</text></g>
<path d="M306.40 403.80L306.40 409.00" stroke="#000" stroke-width="1.1" fill="none"/>
<g transform="translate(296.40 420.00)"><text x="0" y="0" font-family="Liberation Sans, sans-serif" font-size="10.5" class="t" style="letter-spacing:1px">10</text><text x="12.7" y="-5.0" font-family="Liberation Sans, sans-serif" font-size="10">0</text></g>
<path d="M321.77 403.80L321.77 406.80" stroke="#000" stroke-width="0.9" fill="none"/>
<path d="M330.76 403.80L330.76 406.80" stroke="#000" stroke-width="0.9" fill="none"/>
<path d="M337.14 403.80L337.14 406.80" stroke="#000" stroke-width="0.9" fill="none"/>
<path d="M342.08 403.80L342.08 406.80" stroke="#000" stroke-width="0.9" fill="none"/>
<path d="M346.12 403.80L346.12 406.80" stroke="#000" stroke-width="0.9" fill="none"/>
<path d="M349.54 403.80L349.54 406.80" stroke="#000" stroke-width="0.9" fill="none"/>
<path d="M352.50 403.80L352.50 406.80" stroke="#000" stroke-width="0.9" fill="none"/>
<path d="M355.11 403.80L355.11 406.80" stroke="#000" stroke-width="0.9" fill="none"/>
<path d="M357.45 403.80L357.45 409.00" stroke="#000" stroke-width="1.1" fill="none"/>
<g transform="translate(347.45 420.00)"><text x="0" y="0" font-family="Liberation Sans, sans-serif" font-size="10.5" class="t" style="letter-spacing:1px">10</text><text x="12.7" y="-5.0" font-family="Liberation Sans, sans-serif" font-size="10">1</text></g>
<path d="M372.82 403.80L372.82 406.80" stroke="#000" stroke-width="0.9" fill="none"/>
<path d="M381.81 403.80L381.81 406.80" stroke="#000" stroke-width="0.9" fill="none"/>
<path d="M388.19 403.80L388.19 406.80" stroke="#000" stroke-width="0.9" fill="none"/>
<path d="M393.13 403.80L393.13 406.80" stroke="#000" stroke-width="0.9" fill="none"/>
<path d="M397.17 403.80L397.17 406.80" stroke="#000" stroke-width="0.9" fill="none"/>
<path d="M400.59 403.80L400.59 406.80" stroke="#000" stroke-width="0.9" fill="none"/>
<path d="M403.55 403.80L403.55 406.80" stroke="#000" stroke-width="0.9" fill="none"/>
<path d="M406.16 403.80L406.16 406.80" stroke="#000" stroke-width="0.9" fill="none"/>
<path d="M408.50 403.80L408.50 409.00" stroke="#000" stroke-width="1.1" fill="none"/>
<g transform="translate(398.50 420.00)"><text x="0" y="0" font-family="Liberation Sans, sans-serif" font-size="10.5" class="t" style="letter-spacing:1px">10</text><text x="12.7" y="-5.0" font-family="Liberation Sans, sans-serif" font-size="10">2</text></g>
<path d="M423.87 403.80L423.87 406.80" stroke="#000" stroke-width="0.9" fill="none"/>
<path d="M432.86 403.80L432.86 406.80" stroke="#000" stroke-width="0.9" fill="none"/>
<path d="M439.24 403.80L439.24 406.80" stroke="#000" stroke-width="0.9" fill="none"/>
<path d="M444.18 403.80L444.18 406.80" stroke="#000" stroke-width="0.9" fill="none"/>
<path d="M448.22 403.80L448.22 406.80" stroke="#000" stroke-width="0.9" fill="none"/>
<path d="M451.64 403.80L451.64 406.80" stroke="#000" stroke-width="0.9" fill="none"/>
<path d="M454.60 403.80L454.60 406.80" stroke="#000" stroke-width="0.9" fill="none"/>
<path d="M457.21 403.80L457.21 406.80" stroke="#000" stroke-width="0.9" fill="none"/>
<path d="M459.55 403.80L459.55 409.00" stroke="#000" stroke-width="1.1" fill="none"/>
<g transform="translate(449.55 420.00)"><text x="0" y="0" font-family="Liberation Sans, sans-serif" font-size="10.5" class="t" style="letter-spacing:1px">10</text><text x="12.7" y="-5.0" font-family="Liberation Sans, sans-serif" font-size="10">3</text></g>
<path d="M474.92 403.80L474.92 406.80" stroke="#000" stroke-width="0.9" fill="none"/>
<path d="M483.91 403.80L483.91 406.80" stroke="#000" stroke-width="0.9" fill="none"/>
<path d="M490.29 403.80L490.29 406.80" stroke="#000" stroke-width="0.9" fill="none"/>
<path d="M495.23 403.80L495.23 406.80" stroke="#000" stroke-width="0.9" fill="none"/>
<path d="M499.27 403.80L499.27 406.80" stroke="#000" stroke-width="0.9" fill="none"/>
<path d="M502.69 403.80L502.69 406.80" stroke="#000" stroke-width="0.9" fill="none"/>
<path d="M505.65 403.80L505.65 406.80" stroke="#000" stroke-width="0.9" fill="none"/>
<path d="M508.26 403.80L508.26 406.80" stroke="#000" stroke-width="0.9" fill="none"/>
<path d="M510.60 403.80L510.60 409.00" stroke="#000" stroke-width="1.1" fill="none"/>
<g transform="translate(500.60 420.00)"><text x="0" y="0" font-family="Liberation Sans, sans-serif" font-size="10.5" class="t" style="letter-spacing:1px">10</text><text x="12.7" y="-5.0" font-family="Liberation Sans, sans-serif" font-size="10">4</text></g>
<path d="M305.90 403.10L299.90 403.10" stroke="#000" stroke-width="1.1" fill="none"/>
<g transform="translate(297.10 413.70) rotate(-90)"><text x="0" y="0" font-family="Liberation Sans, sans-serif" font-size="10.5" class="t">10</text><text x="14.4" y="-5.1" font-family="Liberation Sans, sans-serif" font-size="10">0</text></g>
<path d="M305.90 390.73L302.90 390.73" stroke="#000" stroke-width="0.9" fill="none"/>
<path d="M305.90 383.49L302.90 383.49" stroke="#000" stroke-width="0.9" fill="none"/>
<path d="M305.90 378.36L302.90 378.36" stroke="#000" stroke-width="0.9" fill="none"/>
<path d="M305.90 374.37L302.90 374.37" stroke="#000" stroke-width="0.9" fill="none"/>
<path d="M305.90 371.12L302.90 371.12" stroke="#000" stroke-width="0.9" fill="none"/>
<path d="M305.90 368.37L302.90 368.37" stroke="#000" stroke-width="0.9" fill="none"/>
<path d="M305.90 365.98L302.90 365.98" stroke="#000" stroke-width="0.9" fill="none"/>
<path d="M305.90 363.88L302.90 363.88" stroke="#000" stroke-width="0.9" fill="none"/>
<path d="M305.90 362.00L299.90 362.00" stroke="#000" stroke-width="1.1" fill="none"/>
<g transform="translate(297.10 372.60) rotate(-90)"><text x="0" y="0" font-family="Liberation Sans, sans-serif" font-size="10.5" class="t">10</text><text x="14.4" y="-5.1" font-family="Liberation Sans, sans-serif" font-size="10">1</text></g>
<path d="M305.90 349.63L302.90 349.63" stroke="#000" stroke-width="0.9" fill="none"/>
<path d="M305.90 342.39L302.90 342.39" stroke="#000" stroke-width="0.9" fill="none"/>
<path d="M305.90 337.26L302.90 337.26" stroke="#000" stroke-width="0.9" fill="none"/>
<path d="M305.90 333.27L302.90 333.27" stroke="#000" stroke-width="0.9" fill="none"/>
<path d="M305.90 330.02L302.90 330.02" stroke="#000" stroke-width="0.9" fill="none"/>
<path d="M305.90 327.27L302.90 327.27" stroke="#000" stroke-width="0.9" fill="none"/>
<path d="M305.90 324.88L302.90 324.88" stroke="#000" stroke-width="0.9" fill="none"/>
<path d="M305.90 322.78L302.90 322.78" stroke="#000" stroke-width="0.9" fill="none"/>
<path d="M305.90 320.90L299.90 320.90" stroke="#000" stroke-width="1.1" fill="none"/>
<g transform="translate(297.10 331.50) rotate(-90)"><text x="0" y="0" font-family="Liberation Sans, sans-serif" font-size="10.5" class="t">10</text><text x="14.4" y="-5.1" font-family="Liberation Sans, sans-serif" font-size="10">2</text></g>
<path d="M305.90 308.53L302.90 308.53" stroke="#000" stroke-width="0.9" fill="none"/>
<path d="M305.90 301.29L302.90 301.29" stroke="#000" stroke-width="0.9" fill="none"/>
<path d="M305.90 296.16L302.90 296.16" stroke="#000" stroke-width="0.9" fill="none"/>
<path d="M305.90 292.17L302.90 292.17" stroke="#000" stroke-width="0.9" fill="none"/>
<path d="M305.90 288.92L302.90 288.92" stroke="#000" stroke-width="0.9" fill="none"/>
<path d="M305.90 286.17L302.90 286.17" stroke="#000" stroke-width="0.9" fill="none"/>
<path d="M305.90 283.78L302.90 283.78" stroke="#000" stroke-width="0.9" fill="none"/>
<path d="M305.90 281.68L302.90 281.68" stroke="#000" stroke-width="0.9" fill="none"/>
<path d="M305.90 279.80L299.90 279.80" stroke="#000" stroke-width="1.1" fill="none"/>
<g transform="translate(297.10 290.40) rotate(-90)"><text x="0" y="0" font-family="Liberation Sans, sans-serif" font-size="10.5" class="t">10</text><text x="14.4" y="-5.1" font-family="Liberation Sans, sans-serif" font-size="10">3</text></g>
<path d="M305.90 267.43L302.90 267.43" stroke="#000" stroke-width="0.9" fill="none"/>
<path d="M305.90 260.19L302.90 260.19" stroke="#000" stroke-width="0.9" fill="none"/>
<path d="M305.90 255.06L302.90 255.06" stroke="#000" stroke-width="0.9" fill="none"/>
<path d="M305.90 251.07L302.90 251.07" stroke="#000" stroke-width="0.9" fill="none"/>
<path d="M305.90 247.82L302.90 247.82" stroke="#000" stroke-width="0.9" fill="none"/>
<path d="M305.90 245.07L302.90 245.07" stroke="#000" stroke-width="0.9" fill="none"/>
<path d="M305.90 242.68L302.90 242.68" stroke="#000" stroke-width="0.9" fill="none"/>
<path d="M305.90 240.58L302.90 240.58" stroke="#000" stroke-width="0.9" fill="none"/>
<path d="M305.90 238.70L299.90 238.70" stroke="#000" stroke-width="1.1" fill="none"/>
<g transform="translate(297.10 249.30) rotate(-90)"><text x="0" y="0" font-family="Liberation Sans, sans-serif" font-size="10.5" class="t">10</text><text x="14.4" y="-5.1" font-family="Liberation Sans, sans-serif" font-size="10">4</text></g>
<text x="141.30" y="215.20" font-family="Liberation Serif, serif" font-size="15" font-weight="bold" text-anchor="middle">SSC-Height</text>
<text x="413.50" y="215.40" font-family="Liberation Serif, serif" font-size="15" font-weight="bold" text-anchor="middle">SSC-Height</text>
<text x="139.00" y="435.60" font-family="Liberation Serif, serif" font-size="15" font-weight="bold" text-anchor="middle">SSC-Height</text>
<text x="398.50" y="435.70" font-family="Liberation Serif, serif" font-size="15" font-weight="bold" text-anchor="middle">CD38-APC</text>
<text x="12.40" y="92.00" font-family="Liberation Serif, serif" font-size="15" font-weight="bold" text-anchor="middle" transform="rotate(-90 12.40 92.00)">FSC-Height</text>
<text x="0" y="0" transform="translate(277.8 94.7) rotate(-90) scale(0.872 1)" font-family="Liberation Serif, serif" font-size="15" font-weight="bold" text-anchor="middle">FITC-mouse IgG1</text>
<text x="13.10" y="321.80" font-family="Liberation Serif, serif" font-size="15" font-weight="bold" text-anchor="middle" transform="rotate(-90 13.10 321.80)">CD34-FITC</text>
<text x="277.60" y="323.20" font-family="Liberation Serif, serif" font-size="15.8" font-weight="bold" text-anchor="middle" transform="rotate(-90 277.60 323.20)">c-kit-PE</text>
<text x="42.50" y="29.20" font-family="Liberation Serif, serif" font-size="18" font-weight="bold" text-anchor="start">A</text>
<text x="310.50" y="28.40" font-family="Liberation Serif, serif" font-size="18" font-weight="bold" text-anchor="start">B</text>
<text x="43.60" y="260.20" font-family="Liberation Serif, serif" font-size="18" font-weight="bold" text-anchor="start">C</text>
<text x="310.50" y="257.80" font-family="Liberation Serif, serif" font-size="18" font-weight="bold" text-anchor="start">D</text>
<text x="125.70" y="45.60" font-family="Liberation Serif, serif" font-size="14.5" font-weight="bold" text-anchor="start">R1</text>
<text x="361.00" y="75.50" font-family="Liberation Serif, serif" font-size="14.5" font-weight="bold" text-anchor="start">R2</text>
<text x="101.80" y="281.00" font-family="Liberation Serif, serif" font-size="14.5" font-weight="bold" text-anchor="start">R2</text>
<text x="312.30" y="287.50" font-family="Liberation Serif, serif" font-size="14.5" font-weight="bold" text-anchor="start">R4</text>
<text x="452.50" y="287.50" font-family="Liberation Serif, serif" font-size="14.5" font-weight="bold" text-anchor="start">R3</text>
<text x="311.90" y="396.00" font-family="Liberation Serif, serif" font-size="14.5" font-weight="bold" text-anchor="start">R6</text>
<text x="454.00" y="400.20" font-family="Liberation Serif, serif" font-size="14.5" font-weight="bold" text-anchor="start">R5</text>
<rect x="319.10" y="60.20" width="36.60" height="63.00" stroke="#000" stroke-width="1.3" fill="none"/>
<path d="M53.1 347V286.5H89.1V347" stroke="#000" stroke-width="1.3" fill="none"/>
<rect x="309.90" y="272.20" width="85.70" height="67.60" stroke="#000" stroke-width="1.3" fill="none"/>
<rect x="399.90" y="272.10" width="74.80" height="67.20" stroke="#000" stroke-width="1.3" fill="none"/>
<rect x="309.90" y="342.60" width="85.70" height="58.90" stroke="#000" stroke-width="1.3" fill="none"/>
<rect x="399.90" y="342.20" width="74.80" height="60.00" stroke="#000" stroke-width="1.3" fill="none"/>
<ellipse cx="79.96" cy="88.41" rx="65.1" ry="21.5" transform="rotate(-56.7 79.96 88.41)" stroke="#000" stroke-width="1.25" fill="none"/>
</g>
</svg></body></html>
